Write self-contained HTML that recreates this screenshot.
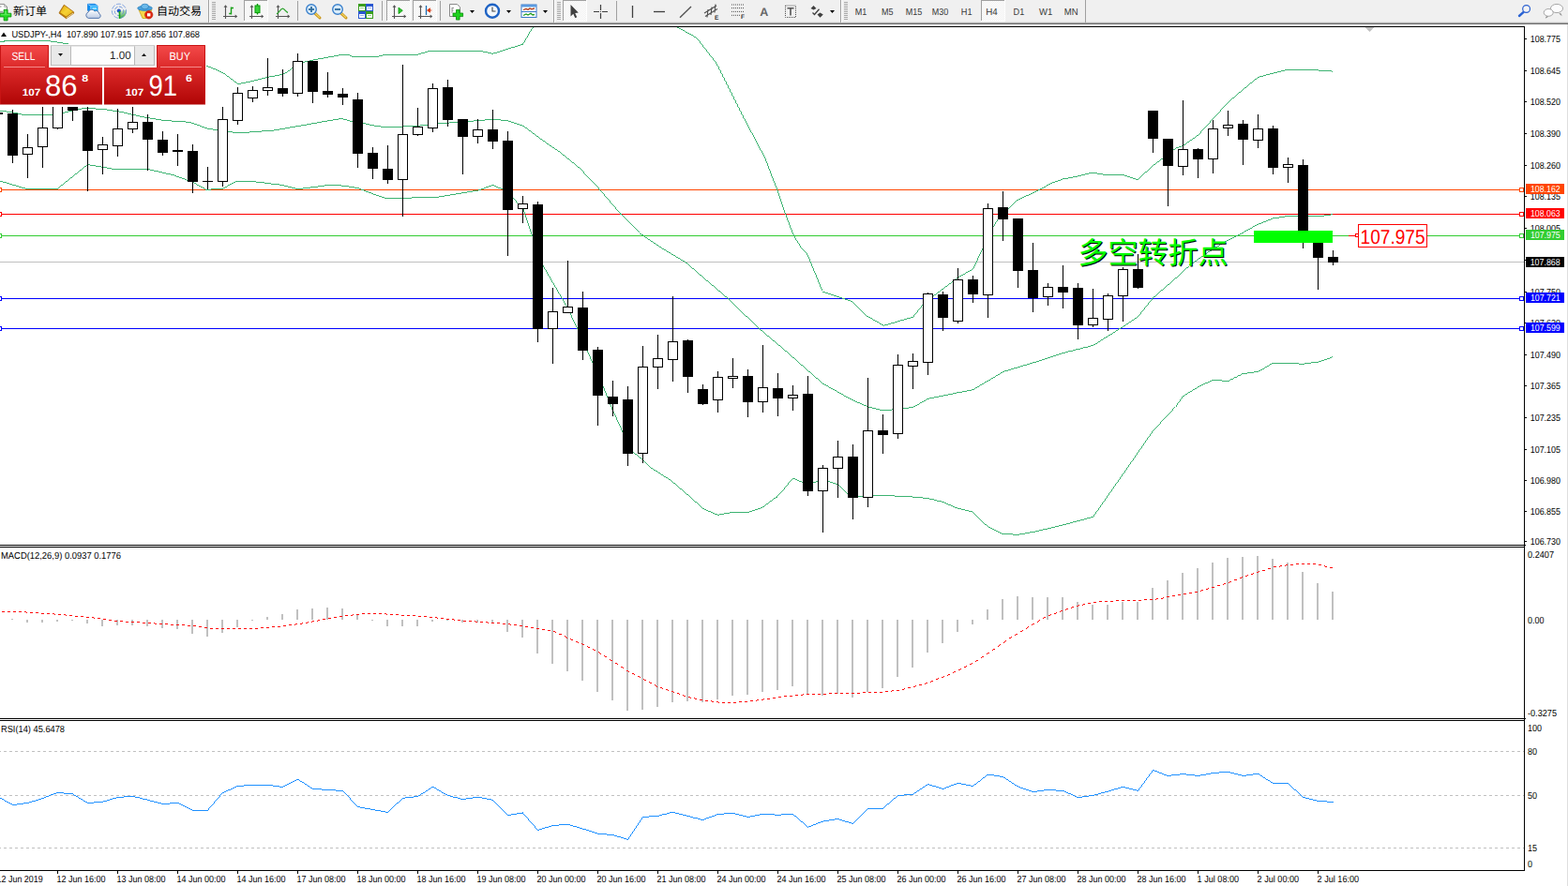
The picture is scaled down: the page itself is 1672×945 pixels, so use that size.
<!DOCTYPE html>
<html><head><meta charset="utf-8"><title>USDJPY H4</title>
<style>
html,body{margin:0;padding:0;background:#fff;width:1672px;height:945px;overflow:hidden}
svg{display:block;font-family:"Liberation Sans",sans-serif}
</style></head><body>
<svg width="1672" height="945" viewBox="0 0 1672 945" text-rendering="geometricPrecision">
<rect x="0" y="0" width="1672" height="945" fill="#fff" />
<rect x="0" y="279" width="1625" height="1" fill="#c0c0c0" />
<rect x="0" y="202" width="1625" height="1" fill="#ff4500" />
<rect x="0" y="228" width="1625" height="1" fill="#ff0000" />
<rect x="0" y="251" width="1625" height="1" fill="#32cd32" />
<rect x="0" y="318" width="1625" height="1" fill="#0000ff" />
<rect x="0" y="350" width="1625" height="1" fill="#0000ff" />
<path d="M568,29.5h1M567,30.5h1M566.5,31v2M565,33.5h1M564.5,34v2M563.5,36v2M562.5,38v2M561,40.5h1M560.5,41v2M4,43.5h50M559.5,43v2M0,44.5h5M54,44.5h7M61,45.5h6M558,45.5h1M67,46.5h6M557.5,46v2M73,47.5h6M555,47.5h2M79,48.5h7M552,48.5h3M86,49.5h6M549,49.5h3M92,50.5h6M545,50.5h4M98,51.5h6M542,51.5h3M104,52.5h7M539,52.5h3M111,53.5h6M536,53.5h3M117,54.5h6M456,54.5h59M533,54.5h3M123,55.5h6M453,55.5h3M515,55.5h5M530,55.5h3M129,56.5h6M449,56.5h4M520,56.5h4M526,56.5h4M135,57.5h7M446,57.5h3M524,57.5h2M142,58.5h6M361,58.5h12M408,58.5h38M148,59.5h6M356,59.5h5M373,59.5h2M404,59.5h4M154,60.5h6M350,60.5h6M375,60.5h29M160,61.5h7M345,61.5h5M167,62.5h6M339,62.5h6M173,63.5h6M334,63.5h5M179,64.5h6M330,64.5h4M185,65.5h7M325,65.5h5M192,66.5h6M322,66.5h3M198,67.5h6M320,67.5h2M204,68.5h6M318,68.5h2M210,69.5h6M317,69.5h1M216,70.5h6M315,70.5h2M222,71.5h3M313,71.5h2M225,72.5h2M311,72.5h2M227,73.5h3M310,73.5h1M230,74.5h2M309,74.5h1M232,75.5h2M307,75.5h2M234,76.5h2M306,76.5h1M236,77.5h2M304,77.5h2M238,78.5h2M302,78.5h2M240,79.5h1M298,79.5h4M241,80.5h1M293,80.5h5M242,81.5h2M287,81.5h6M244,82.5h1M283,82.5h4M245,83.5h1M279,83.5h4M246,84.5h2M275,84.5h4M248,85.5h1M271,85.5h4M249,86.5h1M267,86.5h4M250,87.5h2M262,87.5h5M252,88.5h1M257,88.5h5M253,89.5h4" stroke="#3cb371" stroke-width="1" fill="none" shape-rendering="crispEdges"/>
<path d="M722,29.5h2M724,30.5h2M726,31.5h2M728,32.5h2M730,33.5h1M731,34.5h2M733,35.5h2M735,36.5h2M737,37.5h2M739,38.5h1M740,39.5h2M742,40.5h1M743,41.5h1M744,42.5h1M745,43.5h1M746.5,44v2M747,46.5h1M748,47.5h1M749.5,48v2M750,50.5h1M751,51.5h1M752,52.5h1M753.5,53v2M754,55.5h1M755,56.5h1M756.5,57v2M757,59.5h1M758,60.5h1M759,61.5h1M760.5,62v2M761,64.5h1M762,65.5h1M763.5,66v2M764.5,68v2M765,70.5h1M766.5,71v3M767,74.5h1M1370,74.5h36M768.5,75v3M1366,75.5h4M1406,75.5h14M1362,76.5h4M1420,76.5h1M1358,77.5h4M769,78.5h1M1354,78.5h4M770.5,79v3M1350,79.5h4M1347,80.5h3M1343,81.5h4M771,82.5h1M1341,82.5h2M772.5,83v3M1340,83.5h1M1338,84.5h2M1337,85.5h1M773,86.5h1M1336,86.5h1M774.5,87v3M1335,87.5h1M1333,88.5h2M1332,89.5h1M775,90.5h1M1331,90.5h1M776.5,91v3M1330,91.5h1M1329,92.5h1M1327,93.5h2M777,94.5h1M1326,94.5h1M778.5,95v3M1325,95.5h1M1324,96.5h1M1323,97.5h1M779,98.5h1M1321,98.5h2M780.5,99v3M1320,99.5h1M1319,100.5h1M1318,101.5h1M781,102.5h1M1317,102.5h1M782.5,103v3M1316,103.5h1M1314,104.5h2M1313,105.5h1M783,106.5h1M1312,106.5h1M784.5,107v3M1311,107.5h1M1310,108.5h1M1309,109.5h1M785,110.5h1M1308,110.5h1M786.5,111v3M1307,111.5h1M1306,112.5h1M1305,113.5h1M787,114.5h1M1304,114.5h1M788.5,115v3M1303,115.5h1M1302,116.5h1M1301.5,117v2M789,118.5h1M790.5,119v3M1300,119.5h1M1299,120.5h1M1298,121.5h1M791,122.5h1M1297,122.5h1M792.5,123v3M1296,123.5h1M1295,124.5h1M1294,125.5h1M793,126.5h1M1293,126.5h1M794.5,127v2M1292,127.5h1M1291,128.5h1M795.5,129v2M1290.5,129v2M796.5,131v2M1289,131.5h1M1288,132.5h1M797.5,133v2M1287,133.5h1M1286,134.5h1M798.5,135v2M1285,135.5h1M1284,136.5h1M799.5,137v2M1283,137.5h1M1282,138.5h1M800.5,139v2M1281,139.5h1M1280.5,140v2M801,141.5h1M802.5,142v2M1279,142.5h1M1278,143.5h1M803.5,144v2M1276,144.5h2M1275,145.5h1M804.5,146v2M1274,146.5h1M1272,147.5h2M805.5,148v2M1271,148.5h1M1269,149.5h2M806.5,150v2M1268,150.5h1M1266,151.5h2M807.5,152v2M1265,152.5h1M1264,153.5h1M808.5,154v2M1262,154.5h2M1260,155.5h2M809.5,156v2M1257,156.5h3M1254,157.5h3M810.5,158v2M1253,158.5h1M1251,159.5h2M811,160.5h1M1250,160.5h1M812.5,161v2M1249,161.5h1M1247,162.5h2M813.5,163v2M1246,163.5h1M1245,164.5h1M814.5,165v2M1244,165.5h1M1242,166.5h2M815.5,167v2M1241,167.5h1M1240,168.5h1M816.5,169v3M1238,169.5h2M1237,170.5h1M1236,171.5h1M817.5,172v2M1234,172.5h2M1233,173.5h1M818.5,174v3M1232,174.5h1M1230,175.5h2M1229,176.5h1M819.5,177v3M1228,177.5h1M1227,178.5h1M1226,179.5h1M820.5,180v2M1225,180.5h1M1224,181.5h1M821.5,182v3M1223,182.5h1M1221,183.5h2M1161,184.5h9M1220,184.5h1M822.5,185v3M1157,185.5h4M1170,185.5h6M1219,185.5h1M1153,186.5h4M1176,186.5h23M1218,186.5h1M1149,187.5h4M1199,187.5h3M1217,187.5h1M823.5,188v2M1144,188.5h5M1202,188.5h3M1216,188.5h1M1139,189.5h5M1205,189.5h3M1215,189.5h1M824.5,190v3M1133,190.5h6M1208,190.5h3M1214,190.5h1M1131,191.5h2M1211,191.5h3M1128,192.5h3M825.5,193v2M1125,193.5h3M1122,194.5h3M826.5,195v3M1120,195.5h2M1118,196.5h2M1116,197.5h2M827.5,198v2M1115,198.5h1M1113,199.5h2M828.5,200v3M1111,200.5h2M1109,201.5h2M1107,202.5h2M829.5,203v3M1105,203.5h2M1103,204.5h2M1101,205.5h2M830.5,206v3M1099,206.5h2M1097,207.5h2M1094,208.5h3M831.5,209v3M1092,209.5h2M1090,210.5h2M1088,211.5h2M832.5,212v3M1086,212.5h2M1084,213.5h2M1083,214.5h1M833.5,215v3M1082,215.5h1M1081,216.5h1M1080,217.5h1M834.5,218v3M1079,218.5h1M1078,219.5h1M1077,220.5h1M835.5,221v3M1076,221.5h1M1075,222.5h1M1074,223.5h1M836.5,224v3M1073,224.5h1M1072,225.5h1M1071,226.5h1M837.5,227v2M1070,227.5h1M1069,228.5h1M838.5,229v3M1068,229.5h1M1067,230.5h1M1066,231.5h1M839.5,232v3M1064,232.5h2M1064,233.5h1M1063.5,234v2M840.5,235v2M1062,236.5h1M841.5,237v3M1061.5,237v2M1060.5,239v2M842.5,240v3M1059,241.5h1M1058.5,242v2M843.5,243v2M1057.5,244v2M844.5,245v3M1056.5,246v2M845.5,248v2M1055.5,248v2M846.5,250v2M1054.5,250v2M847.5,252v2M1053.5,252v3M848.5,254v2M1052.5,255v2M849,256.5h1M850.5,257v2M1051.5,257v2M851,259.5h1M1050.5,259v2M852.5,260v2M1049.5,261v2M853.5,262v2M1048.5,263v2M854,264.5h1M855,265.5h1M1047.5,265v2M856,266.5h1M857,267.5h1M1046.5,267v2M858,268.5h1M859,269.5h1M1045.5,269v2M860.5,270v2M1044.5,271v2M861.5,272v2M1043.5,273v2M862.5,274v2M1042.5,275v3M863.5,276v3M1041.5,278v2M864.5,279v2M1040.5,280v2M865.5,281v3M1039.5,282v2M866.5,284v2M1038.5,284v2M867.5,286v3M1037,286.5h1M1036,287.5h1M1034,288.5h2M868.5,289v2M1032,289.5h2M1030,290.5h2M869.5,291v2M1029,291.5h1M1027,292.5h2M870.5,293v3M1025,293.5h2M1023,294.5h2M1022,295.5h1M871.5,296v2M1020,296.5h2M1019,297.5h1M872.5,298v3M1018,298.5h1M1016,299.5h2M1015,300.5h1M873.5,301v2M1014,301.5h1M1012,302.5h2M874.5,303v3M1011,303.5h1M1010,304.5h1M1008,305.5h2M875.5,306v2M1007,306.5h1M1006,307.5h1M876.5,308v2M1004,308.5h2M1003,309.5h1M1002,310.5h1M877,311.5h3M1000,311.5h2M880,312.5h3M999,312.5h1M883,313.5h3M998,313.5h1M886,314.5h3M996,314.5h2M889,315.5h3M995,315.5h1M892,316.5h3M994,316.5h1M895,317.5h3M992,317.5h2M898,318.5h3M991,318.5h1M901,319.5h3M990,319.5h1M904,320.5h3M988,320.5h2M907,321.5h2M987,321.5h1M909,322.5h1M986,322.5h1M910,323.5h1M985,323.5h1M911,324.5h1M984,324.5h1M912,325.5h1M983,325.5h1M913,326.5h1M982.5,326v2M914,327.5h1M915,328.5h1M981,328.5h1M916,329.5h1M980,329.5h1M917,330.5h1M979,330.5h1M918,331.5h1M978.5,331v2M919,332.5h1M920,333.5h1M977,333.5h1M921,334.5h1M976,334.5h1M922,335.5h1M975,335.5h1M923,336.5h1M974.5,336v2M924,337.5h2M926,338.5h2M971,338.5h3M928,339.5h2M967,339.5h4M930,340.5h1M964,340.5h3M931,341.5h2M960,341.5h4M933,342.5h2M957,342.5h3M935,343.5h2M954,343.5h3M937,344.5h1M950,344.5h4M938,345.5h2M947,345.5h3M940,346.5h2M943,346.5h4M942,347.5h1" stroke="#3cb371" stroke-width="1" fill="none" shape-rendering="crispEdges"/>
<path d="M87,115.5h15M82,116.5h5M102,116.5h12M78,117.5h4M114,117.5h6M0,118.5h7M73,118.5h5M120,118.5h7M7,119.5h7M69,119.5h4M127,119.5h5M14,120.5h5M64,120.5h5M132,120.5h4M19,121.5h4M59,121.5h5M136,121.5h4M23,122.5h36M140,122.5h5M145,123.5h4M149,124.5h5M154,125.5h6M160,126.5h6M361,126.5h5M166,127.5h6M355,127.5h6M366,127.5h4M517,127.5h17M172,128.5h11M349,128.5h6M370,128.5h3M505,128.5h12M534,128.5h8M183,129.5h15M343,129.5h6M373,129.5h4M493,129.5h12M542,129.5h3M198,130.5h6M338,130.5h5M377,130.5h7M479,130.5h14M545,130.5h3M204,131.5h3M332,131.5h6M384,131.5h6M466,131.5h13M548,131.5h3M207,132.5h3M327,132.5h5M390,132.5h4M457,132.5h9M551,132.5h3M210,133.5h3M321,133.5h6M394,133.5h5M448,133.5h9M554,133.5h3M213,134.5h2M315,134.5h6M399,134.5h7M429,134.5h19M557,134.5h2M215,135.5h3M309,135.5h6M406,135.5h23M559,135.5h1M218,136.5h3M304,136.5h5M560,136.5h2M221,137.5h6M298,137.5h6M562,137.5h1M227,138.5h8M292,138.5h6M563,138.5h1M235,139.5h8M279,139.5h13M564,139.5h2M243,140.5h5M266,140.5h13M566,140.5h1M248,141.5h18M567,141.5h1M568,142.5h2M570,143.5h1M571,144.5h1M572,145.5h2M574,146.5h1M575,147.5h1M576,148.5h2M578,149.5h1M579,150.5h2M581,151.5h1M582,152.5h1M583,153.5h2M585,154.5h1M586,155.5h2M588,156.5h1M589,157.5h2M591,158.5h1M592,159.5h2M594,160.5h1M595,161.5h2M597,162.5h1M598,163.5h1M599,164.5h1M600,165.5h2M602,166.5h1M603,167.5h1M604,168.5h1M605,169.5h2M607,170.5h1M608,171.5h1M609,172.5h1M610,173.5h2M612,174.5h1M613,175.5h1M614,176.5h1M615,177.5h1M616,178.5h2M618,179.5h1M619,180.5h1M620,181.5h1M621,182.5h1M622.5,183v2M623,185.5h1M624,186.5h1M625,187.5h1M626,188.5h1M627,189.5h1M628,190.5h1M629,191.5h1M630,192.5h1M631,193.5h1M632,194.5h1M633,195.5h1M634,196.5h1M635,197.5h1M636,198.5h1M637,199.5h1M638.5,200v2M639,202.5h1M640,203.5h1M641,204.5h1M642,205.5h1M643,206.5h1M644.5,207v2M645,209.5h1M646,210.5h1M647,211.5h1M648,212.5h1M649,213.5h1M650.5,214v2M651,216.5h1M652,217.5h1M653,218.5h1M654,219.5h1M655,220.5h1M656.5,221v2M657,223.5h1M658,224.5h1M659,225.5h1M660,226.5h1M661.5,227v2M662,228.5h1M1419,228.5h2M663,229.5h1M1412,229.5h7M664,230.5h1M1370,230.5h42M665,231.5h1M1364,231.5h6M666,232.5h1M1357,232.5h7M667,233.5h1M1355,233.5h2M668,234.5h1M1352,234.5h3M669,235.5h1M1350,235.5h2M670,236.5h1M1347,236.5h3M671,237.5h1M1345,237.5h2M672,238.5h1M1342,238.5h3M673,239.5h1M1340,239.5h2M674,240.5h1M1338,240.5h2M675,241.5h1M1336,241.5h2M676,242.5h1M1335,242.5h1M677,243.5h1M1333,243.5h2M678,244.5h1M1331,244.5h2M679,245.5h1M1329,245.5h2M680,246.5h1M1327,246.5h2M681,247.5h1M1326,247.5h1M1324,248.5h2M682,249.5h2M1322,249.5h2M684,250.5h2M1320,250.5h2M686,251.5h1M1318,251.5h2M687,252.5h1M1316,252.5h2M688,253.5h2M1314,253.5h2M690,254.5h1M1312,254.5h2M691,255.5h2M1310,255.5h2M693,256.5h1M1308,256.5h2M694,257.5h2M1306,257.5h2M696,258.5h1M1304,258.5h2M697,259.5h2M1303,259.5h1M699,260.5h1M1301,260.5h2M700,261.5h2M1300,261.5h1M702,262.5h1M1298,262.5h2M703,263.5h2M1296,263.5h2M705,264.5h1M1295,264.5h1M706,265.5h2M1293,265.5h2M708,266.5h2M1292,266.5h1M710,267.5h1M1290,267.5h2M711,268.5h2M1288,268.5h2M713,269.5h2M1287,269.5h1M715,270.5h1M1285,270.5h2M716,271.5h2M1284,271.5h1M718,272.5h2M1283,272.5h1M720,273.5h1M1281,273.5h2M721,274.5h2M1280,274.5h1M723,275.5h2M1278,275.5h2M725,276.5h1M1277,276.5h1M726,277.5h2M1276,277.5h1M728,278.5h2M1274,278.5h2M730,279.5h1M1273,279.5h1M731,280.5h2M1271,280.5h2M733,281.5h1M1270,281.5h1M734,282.5h1M1268,282.5h2M735,283.5h1M736,284.5h1M1267,284.5h1M737,285.5h1M1265,285.5h2M738,286.5h2M1264,286.5h1M740,287.5h1M1263,287.5h1M741,288.5h1M1262,288.5h1M742,289.5h1M1261,289.5h1M743,290.5h1M1260,290.5h1M744,291.5h1M1259,291.5h1M745,292.5h1M1258,292.5h1M746,293.5h2M1257,293.5h1M748,294.5h1M1256,294.5h1M749,295.5h1M1255,295.5h1M750,296.5h1M1253,296.5h2M751,297.5h1M1252,297.5h1M752,298.5h1M1251,298.5h1M753,299.5h2M1250,299.5h1M755,300.5h1M1249,300.5h1M756,301.5h1M1248,301.5h1M757,302.5h1M1247,302.5h1M758,303.5h1M1245,303.5h2M759,304.5h2M1244,304.5h1M761,305.5h1M1243,305.5h1M762,306.5h1M1242,306.5h1M763,307.5h1M1241,307.5h1M764,308.5h1M1240,308.5h1M765,309.5h1M1238,309.5h2M766,310.5h2M1237,310.5h1M768,311.5h1M1236,311.5h1M769,312.5h1M1235,312.5h1M770,313.5h1M1234,313.5h1M771,314.5h1M1233,314.5h1M772,315.5h1M1232,315.5h1M773,316.5h2M1230,316.5h2M775,317.5h1M1229,317.5h1M776,318.5h1M1228.5,318v2M777,319.5h1M778,320.5h1M1227,320.5h1M779,321.5h1M1226,321.5h1M780,322.5h1M1225,322.5h1M781,323.5h1M1224.5,323v2M782,324.5h1M783,325.5h1M1223,325.5h1M784,326.5h1M1222,326.5h1M785,327.5h1M1221,327.5h1M786,328.5h1M1220.5,328v2M787,329.5h1M788,330.5h1M1219,330.5h1M789,331.5h1M1218,331.5h1M790,332.5h1M1217,332.5h1M791,333.5h1M1216.5,333v2M792,334.5h1M793,335.5h1M1215,335.5h1M794,336.5h1M1214,336.5h1M795,337.5h2M1213,337.5h1M797,338.5h1M1212,338.5h1M798,339.5h1M1210,339.5h2M799,340.5h1M1209,340.5h1M800,341.5h1M1207,341.5h2M801,342.5h1M1206,342.5h1M802,343.5h1M1204,343.5h2M803,344.5h1M1203,344.5h1M804,345.5h1M1201,345.5h2M805,346.5h1M1200,346.5h1M806,347.5h1M1198,347.5h2M807,348.5h1M1197,348.5h1M808,349.5h1M1195,349.5h2M809,350.5h1M1193,350.5h2M810,351.5h1M1192,351.5h1M811,352.5h2M1190,352.5h2M813,353.5h1M1189,353.5h1M814,354.5h1M1187,354.5h2M815,355.5h1M1186,355.5h1M816,356.5h1M1184,356.5h2M817,357.5h1M1182,357.5h2M818,358.5h2M1181,358.5h1M820,359.5h1M1179,359.5h2M821,360.5h1M1177,360.5h2M822,361.5h1M1176,361.5h1M823,362.5h1M1174,362.5h2M824,363.5h2M1173,363.5h1M826,364.5h1M1171,364.5h2M827,365.5h1M1170,365.5h1M828,366.5h1M1168,366.5h2M829,367.5h1M1166,367.5h2M830,368.5h2M1163,368.5h3M832,369.5h1M1160,369.5h3M833,370.5h1M1155,370.5h5M834,371.5h1M1152,371.5h3M835,372.5h1M1147,372.5h5M836,373.5h1M1144,373.5h3M837,374.5h2M1139,374.5h5M839,375.5h1M1136,375.5h3M840,376.5h1M1132,376.5h4M841,377.5h1M1129,377.5h3M842,378.5h1M1126,378.5h3M843,379.5h1M1123,379.5h3M844,380.5h1M1120,380.5h3M845,381.5h2M1117,381.5h3M847,382.5h1M1114,382.5h3M848,383.5h1M1111,383.5h3M849,384.5h1M1108,384.5h3M850,385.5h1M1105,385.5h3M851,386.5h1M1101,386.5h4M852,387.5h1M1098,387.5h3M853,388.5h1M1095,388.5h3M854,389.5h2M1091,389.5h4M856,390.5h1M1088,390.5h3M857,391.5h1M1085,391.5h3M858,392.5h1M1081,392.5h4M859,393.5h1M1078,393.5h3M860,394.5h1M1075,394.5h3M861,395.5h1M1071,395.5h4M862,396.5h2M1069,396.5h2M864,397.5h1M1067,397.5h2M865,398.5h1M1066,398.5h1M866,399.5h1M1064,399.5h2M867,400.5h1M1062,400.5h2M868,401.5h1M1061,401.5h1M869,402.5h1M1059,402.5h2M870,403.5h2M1057,403.5h2M872,404.5h1M1056,404.5h1M873,405.5h1M1054,405.5h2M874,406.5h1M1052,406.5h2M875,407.5h1M1050,407.5h2M876,408.5h1M1049,408.5h1M877,409.5h2M1047,409.5h2M879,410.5h2M1045,410.5h2M881,411.5h2M1044,411.5h1M883,412.5h1M1042,412.5h2M884,413.5h2M1040,413.5h2M886,414.5h2M1039,414.5h1M888,415.5h2M1036,415.5h3M890,416.5h2M1031,416.5h5M892,417.5h1M1026,417.5h5M893,418.5h2M1020,418.5h6M895,419.5h2M1016,419.5h4M897,420.5h2M1011,420.5h5M899,421.5h1M1006,421.5h5M900,422.5h2M1001,422.5h5M902,423.5h2M996,423.5h5M904,424.5h2M991,424.5h5M906,425.5h2M988,425.5h3M908,426.5h2M987,426.5h1M910,427.5h2M985,427.5h2M912,428.5h2M983,428.5h2M914,429.5h3M981,429.5h2M917,430.5h2M980,430.5h1M919,431.5h2M978,431.5h2M921,432.5h3M976,432.5h2M924,433.5h2M974,433.5h2M926,434.5h4M969,434.5h5M930,435.5h4M960,435.5h9M934,436.5h4M951,436.5h9M938,437.5h13" stroke="#3cb371" stroke-width="1" fill="none" shape-rendering="crispEdges"/>
<path d="M93,175.5h3M92,176.5h1M96,176.5h6M90,177.5h2M102,177.5h6M89,178.5h1M108,178.5h6M88,179.5h1M114,179.5h5M87,180.5h1M119,180.5h41M85,181.5h2M160,181.5h4M84,182.5h1M164,182.5h5M83,183.5h1M169,183.5h4M82,184.5h1M173,184.5h4M80,185.5h2M177,185.5h5M79,186.5h1M182,186.5h4M78,187.5h1M186,187.5h2M77,188.5h1M188,188.5h3M75,189.5h2M191,189.5h3M74,190.5h1M194,190.5h3M73,191.5h1M197,191.5h2M72,192.5h1M199,192.5h3M0,193.5h3M70,193.5h2M202,193.5h3M251,193.5h22M3,194.5h4M69,194.5h1M205,194.5h2M249,194.5h2M273,194.5h9M7,195.5h3M68,195.5h1M207,195.5h2M247,195.5h2M282,195.5h7M10,196.5h3M67,196.5h1M209,196.5h1M245,196.5h2M289,196.5h9M13,197.5h4M65,197.5h2M210,197.5h2M243,197.5h2M298,197.5h5M346,197.5h18M524,197.5h3M17,198.5h3M64,198.5h1M212,198.5h2M242,198.5h1M303,198.5h4M339,198.5h7M364,198.5h8M521,198.5h3M527,198.5h2M20,199.5h3M63,199.5h1M214,199.5h2M240,199.5h2M307,199.5h4M331,199.5h8M372,199.5h6M518,199.5h3M529,199.5h2M23,200.5h4M62,200.5h1M216,200.5h2M238,200.5h2M311,200.5h4M323,200.5h8M378,200.5h5M516,200.5h2M531,200.5h3M27,201.5h35M218,201.5h1M225,201.5h13M315,201.5h8M383,201.5h2M513,201.5h3M534,201.5h2M219,202.5h6M385,202.5h3M510,202.5h3M536,202.5h2M388,203.5h2M504,203.5h6M538,203.5h2M390,204.5h3M498,204.5h6M540,204.5h1M393,205.5h3M492,205.5h6M541,205.5h1M396,206.5h2M486,206.5h6M542,206.5h1M398,207.5h3M480,207.5h6M543,207.5h1M401,208.5h3M474,208.5h6M544,208.5h1M404,209.5h3M468,209.5h6M545,209.5h1M407,210.5h3M439,210.5h29M546,210.5h1M410,211.5h29M547,211.5h1M548,212.5h1M549,213.5h1M550.5,214v2M551,216.5h1M552,217.5h1M553,218.5h1M554,219.5h1M555,220.5h1M556,221.5h1M558.5,222v4M559.5,226v3M560.5,229v3M561.5,232v3M562.5,235v3M563.5,238v3M564.5,241v3M565.5,244v3M566.5,247v3M567.5,250v2M568.5,252v4M569.5,256v3M570.5,259v3M571.5,262v2M572.5,264v3M573.5,267v3M574.5,270v3M575.5,273v3M576.5,276v3M577.5,279v2M578.5,281v2M579.5,283v2M580.5,285v2M581,287.5h1M582.5,288v2M583.5,290v2M584.5,292v2M585,294.5h1M586.5,295v2M587.5,297v2M588.5,299v2M589,301.5h1M590.5,302v2M591.5,304v2M592,306.5h1M593.5,307v2M594.5,309v2M595.5,311v2M596,313.5h1M597.5,314v2M598.5,316v2M599,318.5h1M600.5,319v2M601.5,321v2M602.5,323v2M603,325.5h1M604.5,326v2M605.5,328v2M606.5,330v2M607.5,332v2M608.5,334v2M609.5,336v3M610.5,339v2M611.5,341v2M612.5,343v2M613.5,345v2M614.5,347v2M615.5,349v2M616.5,351v3M617.5,354v2M618.5,356v2M619.5,358v2M620.5,360v3M621.5,363v2M622.5,365v2M623.5,367v2M624.5,369v2M625.5,371v3M626.5,374v2M627.5,376v2M628.5,378v2M629.5,380v3M1420,380.5h1M1418,381.5h2M1415,382.5h3M630.5,383v2M1412,383.5h3M1409,384.5h3M631.5,385v2M1406,385.5h3M1398,386.5h8M632.5,387v2M1356,387.5h29M1391,387.5h7M1354,388.5h2M1385,388.5h6M633.5,389v2M1353,389.5h1M1351,390.5h2M634.5,391v3M1349,391.5h2M1348,392.5h1M1346,393.5h2M635.5,394v2M1344,394.5h2M1342,395.5h2M636.5,396v2M1337,396.5h5M1330,397.5h7M637.5,398v2M1324,398.5h6M1323,399.5h1M638.5,400v3M1320,400.5h3M1319,401.5h1M1316,402.5h3M639.5,403v2M1315,403.5h1M1312,404.5h3M640.5,405v2M1292,405.5h11M1311,405.5h1M1290,406.5h2M1303,406.5h8M641.5,407v2M1288,407.5h2M1285,408.5h3M642.5,409v3M1283,409.5h2M1281,410.5h2M1279,411.5h2M643.5,412v2M1277,412.5h2M1276,413.5h1M644.5,414v3M1274,414.5h2M1272,415.5h2M1271,416.5h1M645.5,417v2M1269,417.5h2M1267,418.5h2M646.5,419v3M1266,419.5h1M1264,420.5h2M1263,421.5h1M647.5,422v2M1261,422.5h2M1260.5,423v2M648.5,424v3M1259,425.5h1M1258.5,426v2M649.5,427v2M1257,428.5h1M650.5,429v3M1256,429.5h1M1255.5,430v2M651.5,432v2M1254.5,432v2M652.5,434v3M1252,434.5h1M1251,435.5h1M1250.5,436v2M653.5,437v2M1249,438.5h1M654.5,439v2M1248,439.5h1M1247,440.5h1M655.5,441v2M1246,441.5h1M1245,442.5h1M656.5,443v2M1244,443.5h1M1243,444.5h1M657.5,445v3M1242,445.5h1M1241,446.5h1M1240,447.5h1M658.5,448v2M1239,448.5h1M1238,449.5h1M659.5,450v2M1237.5,450v2M660.5,452v2M1236,452.5h1M1235,453.5h1M661.5,454v2M1234,454.5h1M1233,455.5h1M662.5,456v3M1232,456.5h1M1231,457.5h1M1230,458.5h1M663.5,459v2M1229,459.5h1M1228.5,460v2M664.5,461v2M1227,462.5h1M665.5,463v2M1226.5,463v2M666.5,465v2M1225,465.5h1M1224,466.5h1M667.5,467v2M1223.5,467v2M668,469.5h1M1222,469.5h1M669.5,470v2M1221.5,470v2M670.5,472v2M1220,472.5h1M1219.5,473v2M671.5,474v2M1218,475.5h1M672.5,476v2M1217.5,476v2M673.5,478v2M1216,478.5h1M1215,479.5h1M674.5,480v2M1214.5,480v2M675,482.5h1M1213,482.5h1M676,483.5h1M1212.5,483v2M677,484.5h2M679,485.5h1M1211,485.5h1M680,486.5h1M1210.5,486v2M681,487.5h1M682,488.5h2M1209,488.5h1M684,489.5h1M1208.5,489v2M685,490.5h1M686,491.5h1M1207,491.5h1M687,492.5h1M1206,492.5h1M688,493.5h1M1205.5,493v2M689,494.5h1M690,495.5h1M1204,495.5h1M691,496.5h1M1203.5,496v2M692,497.5h1M693,498.5h1M1202,498.5h1M694,499.5h2M1201.5,499v2M696,500.5h1M697,501.5h2M1200,501.5h1M699,502.5h2M1199.5,502v2M701,503.5h1M702,504.5h2M1198,504.5h1M704,505.5h1M1197,505.5h1M705,506.5h2M1196.5,506v2M707,507.5h1M708,508.5h2M1195,508.5h1M710,509.5h2M1194.5,509v2M712,510.5h1M845,510.5h3M877,510.5h1M713,511.5h2M844,511.5h1M848,511.5h2M875,511.5h2M878,511.5h2M1193,511.5h1M715,512.5h1M843,512.5h1M850,512.5h2M872,512.5h3M880,512.5h3M1192.5,512v2M716,513.5h1M842,513.5h1M852,513.5h3M870,513.5h2M883,513.5h2M717,514.5h1M841,514.5h1M855,514.5h2M867,514.5h3M885,514.5h3M1191,514.5h1M718,515.5h2M840.5,515v2M857,515.5h2M864,515.5h3M888,515.5h3M1190,515.5h1M720,516.5h1M859,516.5h5M891,516.5h3M1189.5,516v2M721,517.5h1M839,517.5h1M894,517.5h1M722,518.5h1M838,518.5h1M895,518.5h1M1188,518.5h1M723,519.5h1M837,519.5h1M896,519.5h1M1187.5,519v2M724,520.5h1M836.5,520v2M897,520.5h1M725,521.5h2M898,521.5h1M1186,521.5h1M727,522.5h1M835,522.5h1M899,522.5h1M1185.5,522v2M728,523.5h1M834,523.5h1M900,523.5h1M729,524.5h1M833,524.5h1M901,524.5h1M1184,524.5h1M730,525.5h1M832,525.5h1M902,525.5h1M1183,525.5h1M731,526.5h1M831,526.5h1M903,526.5h2M1182.5,526v2M732,527.5h2M830,527.5h1M905,527.5h2M734,528.5h1M829,528.5h1M907,528.5h3M921,528.5h33M1181,528.5h1M735,529.5h1M828.5,529v2M910,529.5h11M954,529.5h19M1180.5,529v2M736,530.5h1M827,530.5h1M973,530.5h11M737,531.5h1M825,531.5h2M984,531.5h7M1179,531.5h1M738,532.5h1M824,532.5h1M991,532.5h5M1178.5,532v2M739,533.5h1M823,533.5h1M996,533.5h3M740,534.5h1M821,534.5h2M999,534.5h5M1177,534.5h1M741,535.5h2M820,535.5h1M1004,535.5h3M1176,535.5h1M743,536.5h1M819,536.5h1M1007,536.5h2M1175.5,536v2M744,537.5h1M817,537.5h2M1009,537.5h2M745,538.5h1M816,538.5h1M1011,538.5h3M1174,538.5h1M746,539.5h1M815,539.5h1M1014,539.5h2M1173.5,539v2M747,540.5h1M813,540.5h2M1016,540.5h2M748,541.5h1M811,541.5h2M1018,541.5h3M1172,541.5h1M749,542.5h2M808,542.5h3M1021,542.5h4M1171.5,542v2M751,543.5h2M805,543.5h3M1025,543.5h4M753,544.5h2M802,544.5h3M1029,544.5h4M1170,544.5h1M755,545.5h3M799,545.5h3M1033,545.5h4M1169,545.5h1M758,546.5h2M778,546.5h21M1037,546.5h1M1168.5,546v2M760,547.5h2M772,547.5h6M1038,547.5h1M762,548.5h3M767,548.5h5M1039,548.5h1M1167,548.5h1M765,549.5h2M1040,549.5h1M1166.5,549v2M1041,550.5h1M1042,551.5h1M1163,551.5h3M1043,552.5h1M1159,552.5h4M1044,553.5h1M1156,553.5h3M1045,554.5h1M1152,554.5h4M1046,555.5h1M1148,555.5h4M1047,556.5h1M1144,556.5h4M1048,557.5h1M1141,557.5h3M1049,558.5h1M1137,558.5h4M1050,559.5h2M1133,559.5h4M1052,560.5h1M1129,560.5h4M1053,561.5h1M1125,561.5h4M1054,562.5h2M1121,562.5h4M1056,563.5h2M1117,563.5h4M1058,564.5h2M1112,564.5h5M1060,565.5h2M1108,565.5h4M1062,566.5h2M1104,566.5h4M1064,567.5h2M1098,567.5h6M1066,568.5h2M1093,568.5h5M1068,569.5h12M1087,569.5h6M1080,570.5h7" stroke="#3cb371" stroke-width="1" fill="none" shape-rendering="crispEdges"/>
<rect x="-2.5" y="200.5" width="4" height="4" fill="#fff" stroke="#ff4500" stroke-width="1" shape-rendering="crispEdges"/>
<rect x="1620.5" y="200.5" width="4" height="4" fill="#fff" stroke="#ff4500" stroke-width="1" shape-rendering="crispEdges"/>
<rect x="-2.5" y="226.5" width="4" height="4" fill="#fff" stroke="#ff0000" stroke-width="1" shape-rendering="crispEdges"/>
<rect x="1620.5" y="226.5" width="4" height="4" fill="#fff" stroke="#ff0000" stroke-width="1" shape-rendering="crispEdges"/>
<rect x="-2.5" y="249.5" width="4" height="4" fill="#fff" stroke="#32cd32" stroke-width="1" shape-rendering="crispEdges"/>
<rect x="1620.5" y="249.5" width="4" height="4" fill="#fff" stroke="#32cd32" stroke-width="1" shape-rendering="crispEdges"/>
<rect x="-2.5" y="316.5" width="4" height="4" fill="#fff" stroke="#0000ff" stroke-width="1" shape-rendering="crispEdges"/>
<rect x="1620.5" y="316.5" width="4" height="4" fill="#fff" stroke="#0000ff" stroke-width="1" shape-rendering="crispEdges"/>
<rect x="-2.5" y="348.5" width="4" height="4" fill="#fff" stroke="#0000ff" stroke-width="1" shape-rendering="crispEdges"/>
<rect x="1620.5" y="348.5" width="4" height="4" fill="#fff" stroke="#0000ff" stroke-width="1" shape-rendering="crispEdges"/>
<g shape-rendering="crispEdges">
<rect x="13" y="117" width="1" height="57" fill="#000" />
<rect x="8" y="121" width="11" height="45" fill="#000" />
<rect x="29" y="143" width="1" height="47" fill="#000" />
<rect x="24" y="157" width="11" height="8" fill="#000" />
<rect x="25" y="158" width="9" height="6" fill="#fff" />
<rect x="45" y="100" width="1" height="79" fill="#000" />
<rect x="40" y="136" width="11" height="21" fill="#000" />
<rect x="41" y="137" width="9" height="19" fill="#fff" />
<rect x="61" y="100" width="1" height="38" fill="#000" />
<rect x="56" y="100" width="11" height="37" fill="#000" />
<rect x="57" y="101" width="9" height="35" fill="#fff" />
<rect x="77" y="105" width="1" height="24" fill="#000" />
<rect x="72" y="105" width="11" height="13" fill="#000" />
<rect x="93" y="105" width="1" height="99" fill="#000" />
<rect x="88" y="118" width="11" height="43" fill="#000" />
<rect x="109" y="146" width="1" height="40" fill="#000" />
<rect x="104" y="154" width="11" height="6" fill="#000" />
<rect x="105" y="155" width="9" height="4" fill="#fff" />
<rect x="125" y="116" width="1" height="51" fill="#000" />
<rect x="120" y="137" width="11" height="19" fill="#000" />
<rect x="121" y="138" width="9" height="17" fill="#fff" />
<rect x="141" y="113" width="1" height="29" fill="#000" />
<rect x="136" y="130" width="11" height="8" fill="#000" />
<rect x="137" y="131" width="9" height="6" fill="#fff" />
<rect x="157" y="122" width="1" height="60" fill="#000" />
<rect x="152" y="130" width="11" height="19" fill="#000" />
<rect x="173" y="140" width="1" height="26" fill="#000" />
<rect x="168" y="149" width="11" height="14" fill="#000" />
<rect x="189" y="143" width="1" height="34" fill="#000" />
<rect x="184" y="160" width="11" height="2" fill="#000" />
<rect x="205" y="154" width="1" height="52" fill="#000" />
<rect x="200" y="161" width="11" height="33" fill="#000" />
<rect x="221" y="178" width="1" height="24" fill="#000" />
<rect x="216" y="193" width="11" height="1" fill="#000" />
<rect x="237" y="114" width="1" height="85" fill="#000" />
<rect x="232" y="127" width="11" height="67" fill="#000" />
<rect x="233" y="128" width="9" height="65" fill="#fff" />
<rect x="253" y="93" width="1" height="40" fill="#000" />
<rect x="248" y="99" width="11" height="30" fill="#000" />
<rect x="249" y="100" width="9" height="28" fill="#fff" />
<rect x="269" y="92" width="1" height="17" fill="#000" />
<rect x="264" y="96" width="11" height="9" fill="#000" />
<rect x="265" y="97" width="9" height="7" fill="#fff" />
<rect x="285" y="62" width="1" height="40" fill="#000" />
<rect x="280" y="93" width="11" height="4" fill="#000" />
<rect x="281" y="94" width="9" height="2" fill="#fff" />
<rect x="301" y="74" width="1" height="29" fill="#000" />
<rect x="296" y="94" width="11" height="6" fill="#000" />
<rect x="317" y="57" width="1" height="46" fill="#000" />
<rect x="312" y="65" width="11" height="35" fill="#000" />
<rect x="313" y="66" width="9" height="33" fill="#fff" />
<rect x="333" y="65" width="1" height="45" fill="#000" />
<rect x="328" y="65" width="11" height="33" fill="#000" />
<rect x="349" y="77" width="1" height="27" fill="#000" />
<rect x="344" y="97" width="11" height="4" fill="#000" />
<rect x="365" y="94" width="1" height="18" fill="#000" />
<rect x="360" y="100" width="11" height="4" fill="#000" />
<rect x="381" y="99" width="1" height="80" fill="#000" />
<rect x="376" y="106" width="11" height="58" fill="#000" />
<rect x="397" y="157" width="1" height="34" fill="#000" />
<rect x="392" y="163" width="11" height="17" fill="#000" />
<rect x="413" y="155" width="1" height="41" fill="#000" />
<rect x="408" y="180" width="11" height="12" fill="#000" />
<rect x="429" y="69" width="1" height="162" fill="#000" />
<rect x="424" y="143" width="11" height="49" fill="#000" />
<rect x="425" y="144" width="9" height="47" fill="#fff" />
<rect x="445" y="115" width="1" height="30" fill="#000" />
<rect x="440" y="135" width="11" height="9" fill="#000" />
<rect x="441" y="136" width="9" height="7" fill="#fff" />
<rect x="461" y="89" width="1" height="52" fill="#000" />
<rect x="456" y="94" width="11" height="43" fill="#000" />
<rect x="457" y="95" width="9" height="41" fill="#fff" />
<rect x="477" y="85" width="1" height="50" fill="#000" />
<rect x="472" y="93" width="11" height="35" fill="#000" />
<rect x="493" y="127" width="1" height="59" fill="#000" />
<rect x="488" y="127" width="11" height="19" fill="#000" />
<rect x="509" y="127" width="1" height="26" fill="#000" />
<rect x="504" y="138" width="11" height="8" fill="#000" />
<rect x="505" y="139" width="9" height="6" fill="#fff" />
<rect x="525" y="117" width="1" height="42" fill="#000" />
<rect x="520" y="138" width="11" height="13" fill="#000" />
<rect x="541" y="140" width="1" height="133" fill="#000" />
<rect x="536" y="150" width="11" height="74" fill="#000" />
<rect x="557" y="209" width="1" height="29" fill="#000" />
<rect x="552" y="217" width="11" height="6" fill="#000" />
<rect x="553" y="218" width="9" height="4" fill="#fff" />
<rect x="573" y="215" width="1" height="150" fill="#000" />
<rect x="568" y="218" width="11" height="133" fill="#000" />
<rect x="589" y="307" width="1" height="81" fill="#000" />
<rect x="584" y="332" width="11" height="19" fill="#000" />
<rect x="585" y="333" width="9" height="17" fill="#fff" />
<rect x="605" y="278" width="1" height="56" fill="#000" />
<rect x="600" y="327" width="11" height="7" fill="#000" />
<rect x="601" y="328" width="9" height="5" fill="#fff" />
<rect x="621" y="311" width="1" height="73" fill="#000" />
<rect x="616" y="328" width="11" height="46" fill="#000" />
<rect x="637" y="370" width="1" height="84" fill="#000" />
<rect x="632" y="373" width="11" height="49" fill="#000" />
<rect x="653" y="406" width="1" height="38" fill="#000" />
<rect x="648" y="423" width="11" height="8" fill="#000" />
<rect x="669" y="412" width="1" height="85" fill="#000" />
<rect x="664" y="426" width="11" height="58" fill="#000" />
<rect x="685" y="369" width="1" height="125" fill="#000" />
<rect x="680" y="391" width="11" height="93" fill="#000" />
<rect x="681" y="392" width="9" height="91" fill="#fff" />
<rect x="701" y="357" width="1" height="58" fill="#000" />
<rect x="696" y="382" width="11" height="10" fill="#000" />
<rect x="697" y="383" width="9" height="8" fill="#fff" />
<rect x="717" y="316" width="1" height="91" fill="#000" />
<rect x="712" y="364" width="11" height="20" fill="#000" />
<rect x="713" y="365" width="9" height="18" fill="#fff" />
<rect x="733" y="362" width="1" height="57" fill="#000" />
<rect x="728" y="363" width="11" height="39" fill="#000" />
<rect x="749" y="410" width="1" height="22" fill="#000" />
<rect x="744" y="415" width="11" height="16" fill="#000" />
<rect x="765" y="396" width="1" height="44" fill="#000" />
<rect x="760" y="402" width="11" height="25" fill="#000" />
<rect x="761" y="403" width="9" height="23" fill="#fff" />
<rect x="781" y="382" width="1" height="32" fill="#000" />
<rect x="776" y="401" width="11" height="3" fill="#000" />
<rect x="777" y="402" width="9" height="1" fill="#fff" />
<rect x="797" y="394" width="1" height="51" fill="#000" />
<rect x="792" y="401" width="11" height="28" fill="#000" />
<rect x="813" y="368" width="1" height="72" fill="#000" />
<rect x="808" y="413" width="11" height="16" fill="#000" />
<rect x="809" y="414" width="9" height="14" fill="#fff" />
<rect x="829" y="398" width="1" height="46" fill="#000" />
<rect x="824" y="414" width="11" height="11" fill="#000" />
<rect x="845" y="411" width="1" height="27" fill="#000" />
<rect x="840" y="421" width="11" height="4" fill="#000" />
<rect x="841" y="422" width="9" height="2" fill="#fff" />
<rect x="861" y="401" width="1" height="128" fill="#000" />
<rect x="856" y="420" width="11" height="104" fill="#000" />
<rect x="877" y="496" width="1" height="72" fill="#000" />
<rect x="872" y="499" width="11" height="25" fill="#000" />
<rect x="873" y="500" width="9" height="23" fill="#fff" />
<rect x="893" y="470" width="1" height="61" fill="#000" />
<rect x="888" y="487" width="11" height="13" fill="#000" />
<rect x="889" y="488" width="9" height="11" fill="#fff" />
<rect x="909" y="474" width="1" height="80" fill="#000" />
<rect x="904" y="487" width="11" height="44" fill="#000" />
<rect x="925" y="403" width="1" height="138" fill="#000" />
<rect x="920" y="459" width="11" height="72" fill="#000" />
<rect x="921" y="460" width="9" height="70" fill="#fff" />
<rect x="941" y="442" width="1" height="42" fill="#000" />
<rect x="936" y="459" width="11" height="5" fill="#000" />
<rect x="957" y="378" width="1" height="90" fill="#000" />
<rect x="952" y="389" width="11" height="74" fill="#000" />
<rect x="953" y="390" width="9" height="72" fill="#fff" />
<rect x="973" y="377" width="1" height="38" fill="#000" />
<rect x="968" y="385" width="11" height="6" fill="#000" />
<rect x="969" y="386" width="9" height="4" fill="#fff" />
<rect x="989" y="312" width="1" height="88" fill="#000" />
<rect x="984" y="313" width="11" height="74" fill="#000" />
<rect x="985" y="314" width="9" height="72" fill="#fff" />
<rect x="1005" y="311" width="1" height="42" fill="#000" />
<rect x="1000" y="314" width="11" height="25" fill="#000" />
<rect x="1021" y="286" width="1" height="59" fill="#000" />
<rect x="1016" y="298" width="11" height="45" fill="#000" />
<rect x="1017" y="299" width="9" height="43" fill="#fff" />
<rect x="1037" y="294" width="1" height="29" fill="#000" />
<rect x="1032" y="298" width="11" height="16" fill="#000" />
<rect x="1053" y="217" width="1" height="122" fill="#000" />
<rect x="1048" y="222" width="11" height="93" fill="#000" />
<rect x="1049" y="223" width="9" height="91" fill="#fff" />
<rect x="1069" y="204" width="1" height="53" fill="#000" />
<rect x="1064" y="221" width="11" height="13" fill="#000" />
<rect x="1085" y="233" width="1" height="74" fill="#000" />
<rect x="1080" y="233" width="11" height="56" fill="#000" />
<rect x="1101" y="259" width="1" height="74" fill="#000" />
<rect x="1096" y="288" width="11" height="30" fill="#000" />
<rect x="1117" y="302" width="1" height="24" fill="#000" />
<rect x="1112" y="306" width="11" height="11" fill="#000" />
<rect x="1113" y="307" width="9" height="9" fill="#fff" />
<rect x="1133" y="283" width="1" height="46" fill="#000" />
<rect x="1128" y="306" width="11" height="6" fill="#000" />
<rect x="1149" y="302" width="1" height="60" fill="#000" />
<rect x="1144" y="307" width="11" height="40" fill="#000" />
<rect x="1165" y="308" width="1" height="41" fill="#000" />
<rect x="1160" y="339" width="11" height="8" fill="#000" />
<rect x="1161" y="340" width="9" height="6" fill="#fff" />
<rect x="1181" y="313" width="1" height="40" fill="#000" />
<rect x="1176" y="315" width="11" height="26" fill="#000" />
<rect x="1177" y="316" width="9" height="24" fill="#fff" />
<rect x="1197" y="285" width="1" height="58" fill="#000" />
<rect x="1192" y="287" width="11" height="29" fill="#000" />
<rect x="1193" y="288" width="9" height="27" fill="#fff" />
<rect x="1213" y="271" width="1" height="37" fill="#000" />
<rect x="1208" y="287" width="11" height="20" fill="#000" />
<rect x="1229" y="118" width="1" height="45" fill="#000" />
<rect x="1224" y="118" width="11" height="30" fill="#000" />
<rect x="1245" y="148" width="1" height="72" fill="#000" />
<rect x="1240" y="148" width="11" height="29" fill="#000" />
<rect x="1261" y="107" width="1" height="80" fill="#000" />
<rect x="1256" y="159" width="11" height="19" fill="#000" />
<rect x="1257" y="160" width="9" height="17" fill="#fff" />
<rect x="1277" y="158" width="1" height="32" fill="#000" />
<rect x="1272" y="159" width="11" height="11" fill="#000" />
<rect x="1293" y="128" width="1" height="57" fill="#000" />
<rect x="1288" y="137" width="11" height="33" fill="#000" />
<rect x="1289" y="138" width="9" height="31" fill="#fff" />
<rect x="1309" y="118" width="1" height="27" fill="#000" />
<rect x="1304" y="133" width="11" height="4" fill="#000" />
<rect x="1305" y="134" width="9" height="2" fill="#fff" />
<rect x="1325" y="128" width="1" height="48" fill="#000" />
<rect x="1320" y="132" width="11" height="17" fill="#000" />
<rect x="1341" y="122" width="1" height="36" fill="#000" />
<rect x="1336" y="137" width="11" height="13" fill="#000" />
<rect x="1337" y="138" width="9" height="11" fill="#fff" />
<rect x="1357" y="134" width="1" height="52" fill="#000" />
<rect x="1352" y="137" width="11" height="42" fill="#000" />
<rect x="1373" y="168" width="1" height="27" fill="#000" />
<rect x="1368" y="175" width="11" height="4" fill="#000" />
<rect x="1369" y="176" width="9" height="2" fill="#fff" />
<rect x="1389" y="170" width="1" height="95" fill="#000" />
<rect x="1384" y="176" width="11" height="74" fill="#000" />
<rect x="1405" y="250" width="1" height="59" fill="#000" />
<rect x="1400" y="250" width="11" height="25" fill="#000" />
<rect x="1421" y="267" width="1" height="16" fill="#000" />
<rect x="1416" y="274" width="11" height="6" fill="#000" />
</g>
<rect x="0" y="120" width="3" height="2" fill="#000" />
<rect x="1337" y="246" width="84" height="13" fill="#00ff00" />
<text x="1150.5" y="281.8" font-size="32" fill="#000" textLength="160" lengthAdjust="spacingAndGlyphs" style="font-family:'Liberation Sans','Noto Sans CJK SC',sans-serif">多空转折点</text>
<text x="1149.4" y="280.7" font-size="32" fill="#00ff00" textLength="160" lengthAdjust="spacingAndGlyphs" style="font-family:'Liberation Sans','Noto Sans CJK SC',sans-serif">多空转折点</text>
<rect x="1438" y="251" width="8" height="1" fill="#ff0000" />
<rect x="1445.5" y="249.5" width="3" height="3" fill="#fff" stroke="#f00" stroke-width="1" shape-rendering="crispEdges"/>
<rect x="1448.5" y="239.5" width="73" height="24" fill="#fff" stroke="#f00" stroke-width="1" shape-rendering="crispEdges"/>
<text x="1450.6" y="260" font-size="21.5" fill="#ff0000" textLength="69" lengthAdjust="spacingAndGlyphs" >107.975</text>
<rect x="0" y="28" width="1626" height="1" fill="#000" />
<rect x="1625" y="28" width="1" height="901" fill="#000" />
<rect x="0" y="928" width="1626" height="1" fill="#000" />
<rect x="0" y="581" width="1627" height="1" fill="#000" />
<rect x="0" y="766" width="1627" height="1" fill="#000" />
<rect x="0" y="583" width="1626" height="1" fill="#000" />
<rect x="0" y="768" width="1626" height="1" fill="#000" />
<path d="M1455.5,29 L1465.5,29 L1460.5,34 Z" fill="#c0c0c0"/>
<rect x="1671" y="26" width="1" height="919" fill="#dedede" />
<rect x="1626" y="41" width="2" height="1" fill="#000" />
<text x="1631.7" y="45" font-size="10.2" fill="#000" textLength="32.3" lengthAdjust="spacingAndGlyphs" >108.775</text>
<rect x="1626" y="75" width="2" height="1" fill="#000" />
<text x="1631.7" y="79" font-size="10.2" fill="#000" textLength="32.3" lengthAdjust="spacingAndGlyphs" >108.645</text>
<rect x="1626" y="108" width="2" height="1" fill="#000" />
<text x="1631.7" y="112" font-size="10.2" fill="#000" textLength="32.3" lengthAdjust="spacingAndGlyphs" >108.520</text>
<rect x="1626" y="142" width="2" height="1" fill="#000" />
<text x="1631.7" y="146" font-size="10.2" fill="#000" textLength="32.3" lengthAdjust="spacingAndGlyphs" >108.390</text>
<rect x="1626" y="176" width="2" height="1" fill="#000" />
<text x="1631.7" y="180" font-size="10.2" fill="#000" textLength="32.3" lengthAdjust="spacingAndGlyphs" >108.260</text>
<rect x="1626" y="209" width="2" height="1" fill="#000" />
<text x="1631.7" y="213" font-size="10.2" fill="#000" textLength="32.3" lengthAdjust="spacingAndGlyphs" >108.135</text>
<rect x="1626" y="243" width="2" height="1" fill="#000" />
<text x="1631.7" y="247" font-size="10.2" fill="#000" textLength="32.3" lengthAdjust="spacingAndGlyphs" >108.005</text>
<rect x="1626" y="277" width="2" height="1" fill="#000" />
<text x="1631.7" y="281" font-size="10.2" fill="#000" textLength="32.3" lengthAdjust="spacingAndGlyphs" >107.875</text>
<rect x="1626" y="311" width="2" height="1" fill="#000" />
<text x="1631.7" y="315" font-size="10.2" fill="#000" textLength="32.3" lengthAdjust="spacingAndGlyphs" >107.750</text>
<rect x="1626" y="344" width="2" height="1" fill="#000" />
<text x="1631.7" y="348" font-size="10.2" fill="#000" textLength="32.3" lengthAdjust="spacingAndGlyphs" >107.620</text>
<rect x="1626" y="378" width="2" height="1" fill="#000" />
<text x="1631.7" y="382" font-size="10.2" fill="#000" textLength="32.3" lengthAdjust="spacingAndGlyphs" >107.490</text>
<rect x="1626" y="411" width="2" height="1" fill="#000" />
<text x="1631.7" y="415" font-size="10.2" fill="#000" textLength="32.3" lengthAdjust="spacingAndGlyphs" >107.365</text>
<rect x="1626" y="445" width="2" height="1" fill="#000" />
<text x="1631.7" y="449" font-size="10.2" fill="#000" textLength="32.3" lengthAdjust="spacingAndGlyphs" >107.235</text>
<rect x="1626" y="479" width="2" height="1" fill="#000" />
<text x="1631.7" y="483" font-size="10.2" fill="#000" textLength="32.3" lengthAdjust="spacingAndGlyphs" >107.105</text>
<rect x="1626" y="512" width="2" height="1" fill="#000" />
<text x="1631.7" y="516" font-size="10.2" fill="#000" textLength="32.3" lengthAdjust="spacingAndGlyphs" >106.980</text>
<rect x="1626" y="545" width="2" height="1" fill="#000" />
<text x="1631.7" y="549" font-size="10.2" fill="#000" textLength="32.3" lengthAdjust="spacingAndGlyphs" >106.855</text>
<rect x="1626" y="577" width="2" height="1" fill="#000" />
<text x="1631.7" y="581" font-size="10.2" fill="#000" textLength="32.3" lengthAdjust="spacingAndGlyphs" >106.730</text>
<rect x="1627" y="196" width="41" height="11" fill="#ff4500" />
<text x="1631.9" y="205" font-size="10.2" fill="#fff" textLength="31.8" lengthAdjust="spacingAndGlyphs" >108.162</text>
<rect x="1627" y="222" width="41" height="11" fill="#ff0000" />
<text x="1631.9" y="231" font-size="10.2" fill="#fff" textLength="31.8" lengthAdjust="spacingAndGlyphs" >108.063</text>
<rect x="1627" y="245" width="41" height="11" fill="#32cd32" />
<text x="1631.9" y="254" font-size="10.2" fill="#fff" textLength="31.8" lengthAdjust="spacingAndGlyphs" >107.975</text>
<rect x="1627" y="312" width="41" height="11" fill="#0000ff" />
<text x="1631.9" y="321" font-size="10.2" fill="#fff" textLength="31.8" lengthAdjust="spacingAndGlyphs" >107.721</text>
<rect x="1627" y="344" width="41" height="11" fill="#0000ff" />
<text x="1631.9" y="353" font-size="10.2" fill="#fff" textLength="31.8" lengthAdjust="spacingAndGlyphs" >107.599</text>
<rect x="1627" y="274" width="41" height="11" fill="#000" />
<text x="1631.7" y="283" font-size="10.2" fill="#fff" textLength="32" lengthAdjust="spacingAndGlyphs" >107.868</text>
<path d="M1,39 L7,39 L4,34.5 Z" fill="#000"/>
<text x="12.4" y="40" font-size="10.2" fill="#000" textLength="200.6" lengthAdjust="spacingAndGlyphs" xml:space="preserve">USDJPY-,H4&#160;&#160;107.890 107.915 107.856 107.868</text>
<g shape-rendering="crispEdges">
<rect x="12" y="660" width="2" height="1" fill="#c0c0c0" />
<rect x="28" y="661" width="2" height="3" fill="#c0c0c0" />
<rect x="44" y="661" width="2" height="3" fill="#c0c0c0" />
<rect x="60" y="661" width="2" height="2" fill="#c0c0c0" />
<rect x="76" y="661" width="2" height="1" fill="#c0c0c0" />
<rect x="92" y="661" width="2" height="4" fill="#c0c0c0" />
<rect x="108" y="661" width="2" height="7" fill="#c0c0c0" />
<rect x="124" y="661" width="2" height="6" fill="#c0c0c0" />
<rect x="140" y="661" width="2" height="6" fill="#c0c0c0" />
<rect x="156" y="661" width="2" height="7" fill="#c0c0c0" />
<rect x="172" y="661" width="2" height="9" fill="#c0c0c0" />
<rect x="188" y="661" width="2" height="10" fill="#c0c0c0" />
<rect x="204" y="661" width="2" height="15" fill="#c0c0c0" />
<rect x="220" y="661" width="2" height="18" fill="#c0c0c0" />
<rect x="236" y="661" width="2" height="14" fill="#c0c0c0" />
<rect x="252" y="661" width="2" height="8" fill="#c0c0c0" />
<rect x="268" y="661" width="2" height="1" fill="#c0c0c0" />
<rect x="284" y="658" width="2" height="3" fill="#c0c0c0" />
<rect x="300" y="655" width="2" height="6" fill="#c0c0c0" />
<rect x="316" y="650" width="2" height="11" fill="#c0c0c0" />
<rect x="332" y="649" width="2" height="12" fill="#c0c0c0" />
<rect x="348" y="648" width="2" height="13" fill="#c0c0c0" />
<rect x="364" y="649" width="2" height="12" fill="#c0c0c0" />
<rect x="380" y="655" width="2" height="6" fill="#c0c0c0" />
<rect x="396" y="661" width="2" height="1" fill="#c0c0c0" />
<rect x="412" y="661" width="2" height="7" fill="#c0c0c0" />
<rect x="428" y="661" width="2" height="7" fill="#c0c0c0" />
<rect x="444" y="661" width="2" height="7" fill="#c0c0c0" />
<rect x="460" y="661" width="2" height="2" fill="#c0c0c0" />
<rect x="476" y="661" width="2" height="1" fill="#c0c0c0" />
<rect x="492" y="661" width="2" height="3" fill="#c0c0c0" />
<rect x="508" y="661" width="2" height="3" fill="#c0c0c0" />
<rect x="524" y="661" width="2" height="4" fill="#c0c0c0" />
<rect x="540" y="661" width="2" height="13" fill="#c0c0c0" />
<rect x="556" y="661" width="2" height="19" fill="#c0c0c0" />
<rect x="572" y="661" width="2" height="36" fill="#c0c0c0" />
<rect x="588" y="661" width="2" height="47" fill="#c0c0c0" />
<rect x="604" y="661" width="2" height="55" fill="#c0c0c0" />
<rect x="620" y="661" width="2" height="65" fill="#c0c0c0" />
<rect x="636" y="661" width="2" height="77" fill="#c0c0c0" />
<rect x="652" y="661" width="2" height="86" fill="#c0c0c0" />
<rect x="668" y="661" width="2" height="97" fill="#c0c0c0" />
<rect x="684" y="661" width="2" height="96" fill="#c0c0c0" />
<rect x="700" y="661" width="2" height="93" fill="#c0c0c0" />
<rect x="716" y="661" width="2" height="88" fill="#c0c0c0" />
<rect x="732" y="661" width="2" height="87" fill="#c0c0c0" />
<rect x="748" y="661" width="2" height="88" fill="#c0c0c0" />
<rect x="764" y="661" width="2" height="85" fill="#c0c0c0" />
<rect x="780" y="661" width="2" height="81" fill="#c0c0c0" />
<rect x="796" y="661" width="2" height="80" fill="#c0c0c0" />
<rect x="812" y="661" width="2" height="77" fill="#c0c0c0" />
<rect x="828" y="661" width="2" height="75" fill="#c0c0c0" />
<rect x="844" y="661" width="2" height="71" fill="#c0c0c0" />
<rect x="860" y="661" width="2" height="79" fill="#c0c0c0" />
<rect x="876" y="661" width="2" height="81" fill="#c0c0c0" />
<rect x="892" y="661" width="2" height="79" fill="#c0c0c0" />
<rect x="908" y="661" width="2" height="83" fill="#c0c0c0" />
<rect x="924" y="661" width="2" height="77" fill="#c0c0c0" />
<rect x="940" y="661" width="2" height="73" fill="#c0c0c0" />
<rect x="956" y="661" width="2" height="61" fill="#c0c0c0" />
<rect x="972" y="661" width="2" height="51" fill="#c0c0c0" />
<rect x="988" y="661" width="2" height="35" fill="#c0c0c0" />
<rect x="1004" y="661" width="2" height="25" fill="#c0c0c0" />
<rect x="1020" y="661" width="2" height="13" fill="#c0c0c0" />
<rect x="1036" y="661" width="2" height="5" fill="#c0c0c0" />
<rect x="1052" y="650" width="2" height="11" fill="#c0c0c0" />
<rect x="1068" y="639" width="2" height="22" fill="#c0c0c0" />
<rect x="1084" y="636" width="2" height="25" fill="#c0c0c0" />
<rect x="1100" y="637" width="2" height="24" fill="#c0c0c0" />
<rect x="1116" y="637" width="2" height="24" fill="#c0c0c0" />
<rect x="1132" y="637" width="2" height="24" fill="#c0c0c0" />
<rect x="1148" y="642" width="2" height="19" fill="#c0c0c0" />
<rect x="1164" y="645" width="2" height="16" fill="#c0c0c0" />
<rect x="1180" y="645" width="2" height="16" fill="#c0c0c0" />
<rect x="1196" y="642" width="2" height="19" fill="#c0c0c0" />
<rect x="1212" y="642" width="2" height="19" fill="#c0c0c0" />
<rect x="1228" y="627" width="2" height="34" fill="#c0c0c0" />
<rect x="1244" y="619" width="2" height="42" fill="#c0c0c0" />
<rect x="1260" y="611" width="2" height="50" fill="#c0c0c0" />
<rect x="1276" y="606" width="2" height="55" fill="#c0c0c0" />
<rect x="1292" y="600" width="2" height="61" fill="#c0c0c0" />
<rect x="1308" y="595" width="2" height="66" fill="#c0c0c0" />
<rect x="1324" y="594" width="2" height="67" fill="#c0c0c0" />
<rect x="1340" y="593" width="2" height="68" fill="#c0c0c0" />
<rect x="1356" y="596" width="2" height="65" fill="#c0c0c0" />
<rect x="1372" y="600" width="2" height="61" fill="#c0c0c0" />
<rect x="1388" y="610" width="2" height="51" fill="#c0c0c0" />
<rect x="1404" y="622" width="2" height="39" fill="#c0c0c0" />
<rect x="1420" y="631" width="2" height="30" fill="#c0c0c0" />
</g>
<path d="M1382,601.5h3M1388,601.5h3M1394,601.5h3M1400,601.5h3M1371,602.5h2M1376,602.5h3M1406,602.5h3M1365,603.5h2M1370,603.5h1M1412,603.5h1M1358,604.5h3M1364,604.5h1M1413,604.5h2M1418,605.5h3M1352,606.5h3M1346,608.5h3M1342,609.5h1M1340,610.5h2M1336,611.5h1M1334,612.5h2M1330,613.5h1M1328,614.5h2M1324,615.5h1M1322,616.5h2M1316,618.5h3M1311,620.5h2M1310,621.5h1M1305,622.5h2M1304,623.5h1M1298,624.5h3M1292,626.5h3M1288,627.5h1M1286,628.5h2M1281,629.5h2M1280,630.5h1M1274,631.5h3M1268,632.5h3M1262,633.5h3M1256,634.5h3M1250,635.5h3M1244,636.5h3M1240,637.5h1M1233,638.5h2M1238,638.5h2M1220,639.5h3M1226,639.5h3M1232,639.5h1M1190,640.5h3M1196,640.5h3M1202,640.5h3M1208,640.5h3M1214,640.5h3M1172,641.5h3M1178,641.5h3M1184,641.5h3M1166,642.5h3M1160,643.5h3M1155,644.5h2M1150,645.5h1M1154,645.5h1M1148,646.5h2M1143,647.5h2M1142,648.5h1M1137,649.5h2M1136,650.5h1M1131,651.5h2M2,652.5h3M8,652.5h3M14,652.5h3M20,652.5h3M26,652.5h2M1130,652.5h1M28,653.5h1M32,653.5h3M38,653.5h3M1126,653.5h1M44,654.5h3M50,654.5h3M56,654.5h2M386,654.5h3M392,654.5h3M398,654.5h3M404,654.5h3M410,654.5h2M1124,654.5h2M58,655.5h1M62,655.5h3M68,655.5h2M376,655.5h1M380,655.5h3M412,655.5h1M416,655.5h3M422,655.5h3M1120,655.5h1M70,656.5h1M74,656.5h3M368,656.5h3M374,656.5h2M428,656.5h3M434,656.5h3M440,656.5h3M1118,656.5h2M80,657.5h3M86,657.5h3M362,657.5h3M446,657.5h3M452,657.5h3M92,658.5h3M98,658.5h2M356,658.5h3M458,658.5h3M464,658.5h2M1113,658.5h2M100,659.5h1M104,659.5h3M350,659.5h3M466,659.5h1M470,659.5h3M1112,659.5h1M110,660.5h3M344,660.5h3M476,660.5h3M482,660.5h2M116,661.5h3M339,661.5h2M484,661.5h1M488,661.5h3M1108,661.5h1M122,662.5h3M128,662.5h3M333,662.5h2M338,662.5h1M494,662.5h3M500,662.5h3M506,662.5h1M1107,662.5h1M134,663.5h3M140,663.5h3M146,663.5h3M328,663.5h1M332,663.5h1M507,663.5h2M512,663.5h3M518,663.5h2M1106,663.5h1M152,664.5h3M158,664.5h3M164,664.5h1M322,664.5h1M326,664.5h2M520,664.5h1M524,664.5h3M530,664.5h3M165,665.5h2M170,665.5h3M176,665.5h3M315,665.5h2M320,665.5h2M536,665.5h3M542,665.5h2M1101,665.5h2M182,666.5h3M188,666.5h3M194,666.5h3M308,666.5h3M314,666.5h1M544,666.5h1M548,666.5h3M1100,666.5h1M200,667.5h3M206,667.5h3M302,667.5h3M554,667.5h3M212,668.5h3M290,668.5h3M296,668.5h3M560,668.5h3M1096,668.5h1M218,669.5h3M278,669.5h3M284,669.5h3M566,669.5h3M1095,669.5h1M224,670.5h3M230,670.5h3M236,670.5h3M242,670.5h3M248,670.5h3M254,670.5h3M260,670.5h3M266,670.5h3M272,670.5h3M572,670.5h3M1094,670.5h1M578,671.5h3M584,672.5h3M1090,672.5h1M590,673.5h2M1088,673.5h2M592,674.5h1M596,676.5h3M1083,676.5h2M1082,677.5h1M602,678.5h1M603,679.5h1M1078,679.5h1M604,680.5h1M1076,680.5h2M608,681.5h1M609,682.5h2M1072,683.5h1M614,684.5h2M1071,684.5h1M616,685.5h1M1070,685.5h1M620,686.5h1M621,687.5h2M1066,687.5h1M1065,688.5h1M626,689.5h1M1064,689.5h1M627,690.5h2M632,692.5h1M1059,692.5h2M633,693.5h2M1058,693.5h1M638,695.5h1M639,696.5h1M1053,696.5h2M640,697.5h1M1052,697.5h1M644,699.5h1M645,700.5h2M1047,700.5h2M1046,701.5h1M650,703.5h1M651,704.5h2M1041,704.5h2M1040,705.5h1M656,707.5h2M1036,707.5h1M658,708.5h1M1034,708.5h2M1030,710.5h1M662,711.5h2M1028,711.5h2M664,712.5h1M1024,713.5h1M1022,714.5h2M668,715.5h2M670,716.5h1M1017,716.5h2M1016,717.5h1M674,718.5h2M676,719.5h1M1011,719.5h2M1010,720.5h1M680,721.5h2M1006,721.5h1M682,722.5h1M1004,722.5h2M1000,723.5h1M686,724.5h1M998,724.5h2M687,725.5h2M993,726.5h2M692,727.5h1M992,727.5h1M693,728.5h2M987,728.5h2M986,729.5h1M698,730.5h1M980,730.5h3M699,731.5h1M976,731.5h1M700,732.5h1M974,732.5h2M704,733.5h2M968,733.5h3M706,734.5h1M964,734.5h1M710,735.5h2M962,735.5h2M712,736.5h1M951,736.5h2M956,736.5h3M716,737.5h2M944,737.5h3M950,737.5h1M718,738.5h1M920,738.5h3M926,738.5h3M932,738.5h3M938,738.5h3M722,739.5h2M884,739.5h3M890,739.5h3M896,739.5h3M902,739.5h3M908,739.5h3M914,739.5h3M724,740.5h1M856,740.5h1M860,740.5h3M866,740.5h3M872,740.5h3M878,740.5h3M728,741.5h1M848,741.5h3M854,741.5h2M729,742.5h2M836,742.5h3M842,742.5h3M734,743.5h2M830,743.5h3M736,744.5h1M740,744.5h1M824,744.5h3M741,745.5h2M814,745.5h1M818,745.5h3M746,746.5h3M807,746.5h2M812,746.5h2M752,747.5h3M758,747.5h1M800,747.5h3M806,747.5h1M759,748.5h2M764,748.5h2M788,748.5h3M794,748.5h3M766,749.5h1M770,749.5h3M776,749.5h3M782,749.5h3" stroke="#ff0000" stroke-width="1" fill="none" shape-rendering="crispEdges"/>
<text x="1" y="596" font-size="10.2" fill="#000" textLength="128" lengthAdjust="spacingAndGlyphs" >MACD(12,26,9) 0.0937 0.1776</text>
<text x="1629" y="595" font-size="10.2" fill="#000" textLength="28" lengthAdjust="spacingAndGlyphs" >0.2407</text>
<text x="1629" y="665" font-size="10.2" fill="#000" textLength="17.5" lengthAdjust="spacingAndGlyphs" >0.00</text>
<text x="1629" y="764" font-size="10.2" fill="#000" textLength="31" lengthAdjust="spacingAndGlyphs" >-0.3275</text>
<line x1="0" y1="801.5" x2="1625" y2="801.5" stroke="#c0c0c0" stroke-width="1" stroke-dasharray="3,3" stroke-dashoffset="2" shape-rendering="crispEdges"/>
<line x1="0" y1="848.5" x2="1625" y2="848.5" stroke="#c0c0c0" stroke-width="1" stroke-dasharray="3,3" stroke-dashoffset="2" shape-rendering="crispEdges"/>
<line x1="0" y1="904.5" x2="1625" y2="904.5" stroke="#c0c0c0" stroke-width="1" stroke-dasharray="3,3" stroke-dashoffset="2" shape-rendering="crispEdges"/>
<path d="M1229,821.5h2M1228.5,822v2M1231,822.5h3M1234,823.5h2M1300,823.5h12M1227,824.5h1M1236,824.5h3M1291,824.5h9M1312,824.5h4M1226,825.5h1M1239,825.5h2M1258,825.5h7M1286,825.5h5M1316,825.5h4M1336,825.5h7M1052,826.5h8M1225.5,826v2M1241,826.5h3M1249,826.5h9M1265,826.5h9M1280,826.5h6M1320,826.5h4M1329,826.5h7M1343,826.5h1M1051,827.5h1M1060,827.5h6M1244,827.5h5M1274,827.5h6M1324,827.5h5M1344,827.5h2M1050,828.5h1M1066,828.5h4M1224,828.5h1M1346,828.5h1M1048,829.5h2M1070,829.5h2M1223,829.5h1M1347,829.5h2M1047,830.5h1M1072,830.5h1M1222.5,830v2M1349,830.5h1M316,831.5h3M1046,831.5h1M1073,831.5h2M1350,831.5h2M314,832.5h2M319,832.5h1M1045,832.5h1M1075,832.5h1M1221,832.5h1M1352,832.5h2M312,833.5h2M320,833.5h2M1043,833.5h2M1076,833.5h2M1220.5,833v2M1354,833.5h1M310,834.5h2M322,834.5h2M1042,834.5h1M1078,834.5h1M1355,834.5h2M308,835.5h2M324,835.5h1M1020,835.5h5M1041,835.5h1M1079,835.5h2M1219,835.5h1M1357,835.5h17M306,836.5h2M325,836.5h2M989,836.5h2M1017,836.5h3M1025,836.5h5M1039,836.5h2M1081,836.5h1M1218,836.5h1M1374,836.5h1M260,837.5h31M304,837.5h2M327,837.5h1M987,837.5h2M991,837.5h3M1014,837.5h3M1030,837.5h5M1038,837.5h1M1082,837.5h2M1217.5,837v2M1375,837.5h1M252,838.5h8M291,838.5h7M302,838.5h2M328,838.5h2M986,838.5h1M994,838.5h4M1012,838.5h2M1035,838.5h3M1084,838.5h2M1376,838.5h1M250,839.5h2M298,839.5h4M330,839.5h1M460,839.5h3M984,839.5h2M998,839.5h3M1009,839.5h3M1086,839.5h2M1195,839.5h5M1216,839.5h1M1377,839.5h1M248,840.5h2M331,840.5h2M459,840.5h1M463,840.5h2M983,840.5h1M1001,840.5h3M1007,840.5h2M1088,840.5h3M1192,840.5h3M1200,840.5h4M1215,840.5h1M1378,840.5h1M246,841.5h2M333,841.5h10M457,841.5h2M465,841.5h1M981,841.5h2M1004,841.5h3M1091,841.5h3M1188,841.5h4M1204,841.5h4M1214.5,841v2M1379,841.5h1M243,842.5h3M343,842.5h15M456,842.5h1M466,842.5h2M980,842.5h1M1094,842.5h3M1113,842.5h13M1185,842.5h3M1208,842.5h4M1380,842.5h2M241,843.5h2M358,843.5h8M454,843.5h2M468,843.5h2M978,843.5h2M1097,843.5h3M1106,843.5h7M1126,843.5h9M1182,843.5h3M1212,843.5h2M1382,843.5h1M239,844.5h2M366,844.5h1M453,844.5h1M470,844.5h1M977,844.5h1M1100,844.5h6M1135,844.5h2M1178,844.5h4M1383,844.5h1M60,845.5h8M237,845.5h2M367,845.5h1M451,845.5h2M471,845.5h2M975,845.5h2M1137,845.5h2M1174,845.5h4M1384,845.5h1M57,846.5h3M68,846.5h10M236,846.5h1M368,846.5h1M449,846.5h2M473,846.5h2M974,846.5h1M1139,846.5h3M1171,846.5h3M1385,846.5h1M54,847.5h3M78,847.5h1M235,847.5h1M369,847.5h1M448,847.5h1M475,847.5h2M964,847.5h10M1142,847.5h2M1167,847.5h4M1386,847.5h1M52,848.5h2M79,848.5h2M234.5,848v2M370,848.5h1M446,848.5h2M477,848.5h3M957,848.5h7M1144,848.5h2M1161,848.5h6M1387,848.5h1M49,849.5h3M81,849.5h2M132,849.5h12M371,849.5h1M441,849.5h5M480,849.5h3M956,849.5h1M1146,849.5h2M1154,849.5h7M1388,849.5h1M47,850.5h2M83,850.5h1M124,850.5h8M144,850.5h5M233,850.5h1M372,850.5h1M432,850.5h9M483,850.5h5M504,850.5h10M955,850.5h1M1148,850.5h6M1389,850.5h3M0,851.5h2M44,851.5h3M84,851.5h2M120,851.5h4M149,851.5h3M232,851.5h1M373.5,851v2M429,851.5h3M488,851.5h3M497,851.5h7M514,851.5h5M953,851.5h2M1392,851.5h4M2,852.5h2M41,852.5h3M86,852.5h2M117,852.5h3M152,852.5h5M231,852.5h1M428,852.5h1M491,852.5h6M519,852.5h5M952,852.5h1M1396,852.5h4M4,853.5h1M38,853.5h3M88,853.5h1M114,853.5h3M157,853.5h3M230,853.5h1M374,853.5h1M427,853.5h1M524,853.5h2M951,853.5h1M1400,853.5h4M5,854.5h2M34,854.5h4M89,854.5h2M110,854.5h4M160,854.5h4M229,854.5h1M375,854.5h1M426,854.5h1M526,854.5h1M950,854.5h1M1404,854.5h11M7,855.5h2M31,855.5h3M91,855.5h2M100,855.5h10M164,855.5h4M228.5,855v2M376,855.5h1M425,855.5h1M527,855.5h1M949,855.5h1M1415,855.5h7M9,856.5h2M25,856.5h6M93,856.5h7M168,856.5h4M181,856.5h10M377,856.5h1M423,856.5h2M528,856.5h1M948,856.5h1M11,857.5h2M18,857.5h7M172,857.5h9M191,857.5h2M227,857.5h1M378,857.5h1M422,857.5h1M529,857.5h1M946,857.5h2M13,858.5h5M193,858.5h2M226,858.5h1M379,858.5h1M421,858.5h1M530,858.5h1M945,858.5h1M195,859.5h2M225,859.5h1M380,859.5h1M420,859.5h1M531,859.5h1M944,859.5h1M197,860.5h2M224,860.5h1M381,860.5h3M419,860.5h1M532,860.5h1M943,860.5h1M199,861.5h2M223,861.5h1M384,861.5h5M418,861.5h1M533,861.5h1M942,861.5h1M201,862.5h2M222.5,862v2M389,862.5h6M417,862.5h1M534,862.5h1M925,862.5h17M203,863.5h2M395,863.5h5M416,863.5h1M535,863.5h1M924,863.5h1M205,864.5h17M400,864.5h6M415,864.5h1M536,864.5h1M923,864.5h1M406,865.5h5M414,865.5h1M537,865.5h1M922,865.5h1M411,866.5h3M538,866.5h1M557.5,866v2M714,866.5h6M921,866.5h1M539,867.5h1M551,867.5h6M711,867.5h3M720,867.5h4M772,867.5h12M920,867.5h1M540,868.5h1M545,868.5h6M558,868.5h1M706,868.5h5M724,868.5h4M764,868.5h8M784,868.5h4M810,868.5h16M833,868.5h13M919,868.5h1M541,869.5h4M559,869.5h1M703,869.5h3M728,869.5h4M762,869.5h2M788,869.5h4M805,869.5h5M826,869.5h7M846,869.5h1M918,869.5h1M560,870.5h1M692,870.5h11M732,870.5h4M759,870.5h3M792,870.5h4M800,870.5h5M847,870.5h2M917,870.5h1M561,871.5h1M685,871.5h7M736,871.5h3M756,871.5h3M796,871.5h4M849,871.5h1M916,871.5h1M562,872.5h1M684.5,872v2M739,872.5h5M753,872.5h3M850,872.5h1M915,872.5h1M563.5,873v2M744,873.5h3M751,873.5h2M851,873.5h1M890,873.5h5M914,873.5h1M683,874.5h1M747,874.5h4M852,874.5h1M884,874.5h6M895,874.5h3M913,874.5h1M564,875.5h1M682.5,875v2M853,875.5h1M878,875.5h6M898,875.5h3M912,875.5h1M565,876.5h1M854,876.5h2M875,876.5h3M901,876.5h4M911,876.5h1M566,877.5h1M681,877.5h1M856,877.5h1M872,877.5h3M905,877.5h3M910,877.5h1M567,878.5h1M680.5,878v2M857,878.5h1M870,878.5h2M908,878.5h2M568,879.5h1M596,879.5h12M858,879.5h1M867,879.5h3M569,880.5h1M588,880.5h8M608,880.5h3M679,880.5h1M859,880.5h1M865,880.5h2M570.5,881v2M585,881.5h3M611,881.5h4M678.5,881v2M860,881.5h1M862,881.5h3M581,882.5h4M615,882.5h3M861,882.5h1M571,883.5h1M578,883.5h3M618,883.5h3M677,883.5h1M572,884.5h1M575,884.5h3M621,884.5h4M676.5,884v2M573,885.5h2M625,885.5h3M628,886.5h3M675,886.5h1M631,887.5h3M674.5,887v2M634,888.5h3M637,889.5h10M673,889.5h1M647,890.5h8M672.5,890v2M655,891.5h3M658,892.5h4M671,892.5h1M662,893.5h3M670.5,893v2M665,894.5h3M668,895.5h2" stroke="#1e90ff" stroke-width="1" fill="none" shape-rendering="crispEdges"/>
<text x="1" y="781" font-size="10.2" fill="#000" textLength="68" lengthAdjust="spacingAndGlyphs" >RSI(14) 45.6478</text>
<text x="1629" y="780.0" font-size="10.2" fill="#000" textLength="15" lengthAdjust="spacingAndGlyphs" >100</text>
<text x="1629" y="805.0" font-size="10.2" fill="#000" textLength="10" lengthAdjust="spacingAndGlyphs" >80</text>
<text x="1629" y="852.0" font-size="10.2" fill="#000" textLength="10" lengthAdjust="spacingAndGlyphs" >50</text>
<text x="1629" y="908.0" font-size="10.2" fill="#000" textLength="10" lengthAdjust="spacingAndGlyphs" >15</text>
<text x="1629" y="925.0" font-size="10.2" fill="#000" textLength="5" lengthAdjust="spacingAndGlyphs" >0</text>
<text x="-3.4" y="941" font-size="10.2" fill="#000" textLength="49" lengthAdjust="spacingAndGlyphs" >12 Jun 2019</text>
<rect x="61" y="929" width="1" height="3" fill="#000" />
<text x="60.6" y="941" font-size="10.2" fill="#000" textLength="52" lengthAdjust="spacingAndGlyphs" >12 Jun 16:00</text>
<rect x="125" y="929" width="1" height="3" fill="#000" />
<text x="124.6" y="941" font-size="10.2" fill="#000" textLength="52" lengthAdjust="spacingAndGlyphs" >13 Jun 08:00</text>
<rect x="189" y="929" width="1" height="3" fill="#000" />
<text x="188.6" y="941" font-size="10.2" fill="#000" textLength="52" lengthAdjust="spacingAndGlyphs" >14 Jun 00:00</text>
<rect x="253" y="929" width="1" height="3" fill="#000" />
<text x="252.6" y="941" font-size="10.2" fill="#000" textLength="52" lengthAdjust="spacingAndGlyphs" >14 Jun 16:00</text>
<rect x="317" y="929" width="1" height="3" fill="#000" />
<text x="316.6" y="941" font-size="10.2" fill="#000" textLength="52" lengthAdjust="spacingAndGlyphs" >17 Jun 08:00</text>
<rect x="381" y="929" width="1" height="3" fill="#000" />
<text x="380.6" y="941" font-size="10.2" fill="#000" textLength="52" lengthAdjust="spacingAndGlyphs" >18 Jun 00:00</text>
<rect x="445" y="929" width="1" height="3" fill="#000" />
<text x="444.6" y="941" font-size="10.2" fill="#000" textLength="52" lengthAdjust="spacingAndGlyphs" >18 Jun 16:00</text>
<rect x="509" y="929" width="1" height="3" fill="#000" />
<text x="508.6" y="941" font-size="10.2" fill="#000" textLength="52" lengthAdjust="spacingAndGlyphs" >19 Jun 08:00</text>
<rect x="573" y="929" width="1" height="3" fill="#000" />
<text x="572.6" y="941" font-size="10.2" fill="#000" textLength="52" lengthAdjust="spacingAndGlyphs" >20 Jun 00:00</text>
<rect x="637" y="929" width="1" height="3" fill="#000" />
<text x="636.6" y="941" font-size="10.2" fill="#000" textLength="52" lengthAdjust="spacingAndGlyphs" >20 Jun 16:00</text>
<rect x="701" y="929" width="1" height="3" fill="#000" />
<text x="700.6" y="941" font-size="10.2" fill="#000" textLength="52" lengthAdjust="spacingAndGlyphs" >21 Jun 08:00</text>
<rect x="765" y="929" width="1" height="3" fill="#000" />
<text x="764.6" y="941" font-size="10.2" fill="#000" textLength="52" lengthAdjust="spacingAndGlyphs" >24 Jun 00:00</text>
<rect x="829" y="929" width="1" height="3" fill="#000" />
<text x="828.6" y="941" font-size="10.2" fill="#000" textLength="52" lengthAdjust="spacingAndGlyphs" >24 Jun 16:00</text>
<rect x="893" y="929" width="1" height="3" fill="#000" />
<text x="892.6" y="941" font-size="10.2" fill="#000" textLength="52" lengthAdjust="spacingAndGlyphs" >25 Jun 08:00</text>
<rect x="957" y="929" width="1" height="3" fill="#000" />
<text x="956.6" y="941" font-size="10.2" fill="#000" textLength="52" lengthAdjust="spacingAndGlyphs" >26 Jun 00:00</text>
<rect x="1021" y="929" width="1" height="3" fill="#000" />
<text x="1020.6" y="941" font-size="10.2" fill="#000" textLength="52" lengthAdjust="spacingAndGlyphs" >26 Jun 16:00</text>
<rect x="1085" y="929" width="1" height="3" fill="#000" />
<text x="1084.6" y="941" font-size="10.2" fill="#000" textLength="52" lengthAdjust="spacingAndGlyphs" >27 Jun 08:00</text>
<rect x="1149" y="929" width="1" height="3" fill="#000" />
<text x="1148.6" y="941" font-size="10.2" fill="#000" textLength="52" lengthAdjust="spacingAndGlyphs" >28 Jun 00:00</text>
<rect x="1213" y="929" width="1" height="3" fill="#000" />
<text x="1212.6" y="941" font-size="10.2" fill="#000" textLength="52" lengthAdjust="spacingAndGlyphs" >28 Jun 16:00</text>
<rect x="1277" y="929" width="1" height="3" fill="#000" />
<text x="1276.6" y="941" font-size="10.2" fill="#000" textLength="44.5" lengthAdjust="spacingAndGlyphs" >1 Jul 08:00</text>
<rect x="1341" y="929" width="1" height="3" fill="#000" />
<text x="1340.6" y="941" font-size="10.2" fill="#000" textLength="44.5" lengthAdjust="spacingAndGlyphs" >2 Jul 00:00</text>
<rect x="1405" y="929" width="1" height="3" fill="#000" />
<text x="1404.6" y="941" font-size="10.2" fill="#000" textLength="44.5" lengthAdjust="spacingAndGlyphs" >2 Jul 16:00</text>
<rect x="0" y="0" width="1672" height="24" fill="#f0f0f0" />
<rect x="0" y="23" width="1672" height="1" fill="#e2e2e2" />
<rect x="0" y="24" width="1672" height="1" fill="#a9a9a9" />
<rect x="0" y="25" width="1672" height="1" fill="#6e6e6e" />
<defs><pattern id="chk" width="2" height="2" patternUnits="userSpaceOnUse"><rect width="2" height="2" fill="#f0f0f0"/><rect width="1" height="1" fill="#fff"/><rect x="1" y="1" width="1" height="1" fill="#fff"/></pattern></defs>
<path d="M-3,4.4 H4.6 L7.5,7.3 V14 H-3 Z" fill="#fdfdfd" stroke="#7d7d7d" stroke-width="0.9"/>
<path d="M4.6,4.6 V7.3 H7.4" fill="none" stroke="#9a9a9a" stroke-width="0.8"/>
<path d="M-1,7 H1.5 M-1,12.3 H3" stroke="#8a8a8a" stroke-width="1"/>
<path d="M4.1,10.3 h4 v3.9 h3.8 v3.8 h-3.8 v3.9 h-4 v-3.9 h-4.4 v-3.8 h4.4 Z" fill="#22d822" stroke="#0c8f0c" stroke-width="0.8"/>
<path d="M5,11.5 h2 v3.6 h3.6 v1.2 h-9.6 v-1.2 h4 Z" fill="#6cf06c" opacity="0.7"/>
<text x="14" y="15.5" font-size="12" fill="#000" textLength="36" lengthAdjust="spacingAndGlyphs" style="font-family:'Liberation Sans','Noto Sans CJK SC',sans-serif">新订单</text>
<defs><linearGradient id="bk" x1="0" y1="0" x2="1" y2="1"><stop offset="0" stop-color="#e2a90f"/><stop offset="0.5" stop-color="#f6d235"/><stop offset="1" stop-color="#e5b21a"/></linearGradient><linearGradient id="cl" x1="0" y1="0" x2="0" y2="1"><stop offset="0" stop-color="#ffffff"/><stop offset="1" stop-color="#bccbe4"/></linearGradient></defs>
<path d="M68.3,5.2 L78.6,12.8 L78.6,14.2 L70.6,19.7 L63.2,14.2 L63.3,13.2 Z" fill="#b87a0c" stroke="#a8690a" stroke-width="0.8" stroke-linejoin="round"/>
<path d="M68.6,6 L77.6,12.6 L70.6,17.6 L64.2,13.2 Z" fill="url(#bk)"/>
<path d="M78,14 L71,18.9" stroke="#efe4b0" stroke-width="0.9"/>
<path d="M93.5,4.3 H101 L104,6 V13 H96.5 L93.5,11.3 Z" fill="#0c90f2" stroke="#1a7fe0" stroke-width="0.8"/>
<path d="M97,6.3 H103.8 V13 H97 Z" fill="#22b4ff"/>
<path d="M96.8,6.2 V13 M93.8,4.6 L96.8,6.2 H104" stroke="#bfe6ff" stroke-width="0.7" fill="none"/>
<path d="M98.5,9 H103" stroke="#e8f6ff" stroke-width="1.2"/>
<path d="M94.3,19.4 a3.3,3.3 0 0 1 -0.3,-6.3 a3.9,3.9 0 0 1 7,-1.1 a3,3 0 0 1 4.6,2.5 a2.55,2.55 0 0 1 -0.5,4.9 Z" fill="url(#cl)" stroke="#4a6ea8" stroke-width="0.9"/>
<defs><linearGradient id="sg" x1="0" y1="0" x2="0.3" y2="1"><stop offset="0" stop-color="#8fcf8f" stop-opacity="0.25"/><stop offset="1" stop-color="#1fa01f" stop-opacity="0.95"/></linearGradient></defs>
<path d="M127,12 L134.9,10.6 A8,8 0 0 1 127,19.9 Z" fill="url(#sg)"/>
<circle cx="127" cy="11.8" r="7.6" fill="none" stroke="#6a93dc" stroke-width="1" stroke-dasharray="5,1.5" opacity="0.8"/>
<circle cx="127" cy="11.8" r="4.8" fill="none" stroke="#5a86d6" stroke-width="1" stroke-dasharray="4,1.5" opacity="0.8"/>
<circle cx="126.8" cy="11.5" r="2.1" fill="#2458c8"/>
<path d="M127.5,12 V19.8" stroke="#14a514" stroke-width="1.6"/>
<path d="M148,10.5 L162,10.5 L156,19.5 L152,19.5 Z" fill="#f5d84a" stroke="#c9a21a" stroke-width="0.8"/>
<ellipse cx="154.5" cy="8.8" rx="7.8" ry="2.6" fill="#4aa3df" stroke="#2b7fbd" stroke-width="0.8"/>
<ellipse cx="154.5" cy="7" rx="4" ry="2.8" fill="#6bb9ea" stroke="#2b7fbd" stroke-width="0.8"/>
<circle cx="158.7" cy="15.8" r="4.2" fill="#e0260e" stroke="#b01a08" stroke-width="0.6"/>
<rect x="157" y="14.2" width="3.4" height="3.2" fill="#fff" />
<text x="167" y="15.5" font-size="12" fill="#000" textLength="48" lengthAdjust="spacingAndGlyphs" style="font-family:'Liberation Sans','Noto Sans CJK SC',sans-serif">自动交易</text>
<rect x="222" y="0" width="1" height="24" fill="#a0a0a0" />
<rect x="223" y="0" width="1" height="24" fill="#fff" />
<rect x="226" y="2" width="4" height="1" fill="#a8a8a8" />
<rect x="226" y="4" width="4" height="1" fill="#a8a8a8" />
<rect x="226" y="6" width="4" height="1" fill="#a8a8a8" />
<rect x="226" y="8" width="4" height="1" fill="#a8a8a8" />
<rect x="226" y="10" width="4" height="1" fill="#a8a8a8" />
<rect x="226" y="12" width="4" height="1" fill="#a8a8a8" />
<rect x="226" y="14" width="4" height="1" fill="#a8a8a8" />
<rect x="226" y="16" width="4" height="1" fill="#a8a8a8" />
<rect x="226" y="18" width="4" height="1" fill="#a8a8a8" />
<rect x="226" y="20" width="4" height="1" fill="#a8a8a8" />
<path d="M240.5,20.0 V6.5 M238,17.5 H252" stroke="#555" stroke-width="1.1" fill="none"/>
<path d="M238.5,7.8 L240.5,5.2 L242.5,7.8 Z M250.7,15.5 L253.3,17.5 L250.7,19.5 Z" fill="#555"/>
<path d="M246.5,7.5 V15.5 M246.5,8.5 H249 M244.2,14.5 H246.5" stroke="#18a018" stroke-width="1.4" fill="none"/>
<rect x="260" y="0" width="26" height="23" fill="url(#chk)" shape-rendering="crispEdges"/>
<rect x="260" y="0" width="25" height="1" fill="#a0a0a0" />
<rect x="260" y="0" width="1" height="22" fill="#a0a0a0" />
<rect x="285" y="0" width="1" height="23" fill="#fff" />
<rect x="260" y="22" width="26" height="1" fill="#fff" />
<path d="M268.5,20.0 V6.5 M266,17.5 H280" stroke="#555" stroke-width="1.1" fill="none"/>
<path d="M266.5,7.8 L268.5,5.2 L270.5,7.8 Z M278.7,15.5 L281.3,17.5 L278.7,19.5 Z" fill="#555"/>
<path d="M274.5,4 V15.5" stroke="#0a9a0a" stroke-width="1.4"/>
<rect x="272" y="6" width="5" height="7.6" fill="#39d239" stroke="#0a9a0a" stroke-width="1"/>
<path d="M296.5,20.0 V6.5 M294,17.5 H308" stroke="#555" stroke-width="1.1" fill="none"/>
<path d="M294.5,7.8 L296.5,5.2 L298.5,7.8 Z M306.7,15.5 L309.3,17.5 L306.7,19.5 Z" fill="#555"/>
<path d="M295,15 C298,13 299.5,9 301.5,9.2 S305,13 307,13.5" stroke="#2aa32a" stroke-width="1.3" fill="none"/>
<rect x="317" y="1" width="1" height="21" fill="#a0a0a0" />
<path d="M336,14.3 L341,19" stroke="#c9961a" stroke-width="3" stroke-linecap="round"/>
<path d="M336,14.1 L340.6,18.5" stroke="#f2d564" stroke-width="1.2" stroke-linecap="round"/>
<circle cx="332" cy="10" r="5.3" fill="#d9ecfb" stroke="#3a80cc" stroke-width="1.4"/>
<path d="M329,10 H335" stroke="#2f6d9e" stroke-width="1.8"/>
<path d="M332,7 V13" stroke="#2f6d9e" stroke-width="1.8"/>
<path d="M364,14.3 L369,19" stroke="#c9961a" stroke-width="3" stroke-linecap="round"/>
<path d="M364,14.1 L368.6,18.5" stroke="#f2d564" stroke-width="1.2" stroke-linecap="round"/>
<circle cx="360" cy="10" r="5.3" fill="#d9ecfb" stroke="#3a80cc" stroke-width="1.4"/>
<path d="M357,10 H363" stroke="#2f6d9e" stroke-width="1.8"/>
<rect x="382" y="4" width="8" height="8" fill="#3a9e1e" />
<rect x="390" y="4" width="8" height="8" fill="#2a57d0" />
<rect x="382" y="12" width="8" height="8" fill="#2a57d0" />
<rect x="390" y="12" width="8" height="8" fill="#3a9e1e" />
<rect x="383" y="7" width="6" height="4" fill="#fff" />
<rect x="391" y="7" width="6" height="4" fill="#fff" />
<rect x="383" y="15" width="6" height="4" fill="#fff" />
<rect x="391" y="15" width="6" height="4" fill="#fff" />
<rect x="384" y="8" width="4" height="1" fill="#9bd68a" />
<rect x="392" y="8" width="4" height="1" fill="#9db5ee" />
<rect x="384" y="16" width="4" height="1" fill="#9db5ee" />
<rect x="392" y="16" width="4" height="1" fill="#9bd68a" />
<rect x="407" y="1" width="1" height="21" fill="#a0a0a0" />
<rect x="412" y="0" width="26" height="23" fill="url(#chk)" shape-rendering="crispEdges"/>
<rect x="412" y="0" width="25" height="1" fill="#a0a0a0" />
<rect x="412" y="0" width="1" height="22" fill="#a0a0a0" />
<rect x="437" y="0" width="1" height="23" fill="#fff" />
<rect x="412" y="22" width="26" height="1" fill="#fff" />
<path d="M420.5,20.0 V6.5 M418,17.5 H432" stroke="#555" stroke-width="1.1" fill="none"/>
<path d="M418.5,7.8 L420.5,5.2 L422.5,7.8 Z M430.7,15.5 L433.3,17.5 L430.7,19.5 Z" fill="#555"/>
<path d="M425,8 L429.3,11.3 L425,14.7 Z" fill="#2bc42b" stroke="#0a9a0a" stroke-width="0.8"/>
<rect x="440" y="0" width="26" height="23" fill="url(#chk)" shape-rendering="crispEdges"/>
<rect x="440" y="0" width="25" height="1" fill="#a0a0a0" />
<rect x="440" y="0" width="1" height="22" fill="#a0a0a0" />
<rect x="465" y="0" width="1" height="23" fill="#fff" />
<rect x="440" y="22" width="26" height="1" fill="#fff" />
<path d="M448.5,20.0 V6.5 M446,17.5 H460" stroke="#555" stroke-width="1.1" fill="none"/>
<path d="M446.5,7.8 L448.5,5.2 L450.5,7.8 Z M458.7,15.5 L461.3,17.5 L458.7,19.5 Z" fill="#555"/>
<path d="M454.5,6 V16" stroke="#1b6fb5" stroke-width="1.3"/>
<path d="M455.5,11 L458.5,8.8 L458.5,13.2 Z M458,11 H460.5" fill="#d8390e" stroke="#d8390e" stroke-width="0.8"/>
<rect x="469" y="1" width="1" height="21" fill="#a0a0a0" />
<path d="M479.5,4.5 H487.5 L490.5,7.5 V17.5 H479.5 Z" fill="#fff" stroke="#8a8a8a" stroke-width="1"/>
<path d="M482,8 V14 M482,8.5 H484 M482,11 H483.5" stroke="#888" stroke-width="0.9" fill="none"/>
<path d="M486.5,10.5 h3.6 v3.5 h3.5 v3.6 h-3.5 v3.5 h-3.6 v-3.5 h-3.5 v-3.6 h3.5 Z" fill="#1ed21e" stroke="#0a8a0a" stroke-width="0.8"/>
<path d="M501,11 L506,11 L503.5,14 Z" fill="#000"/>
<circle cx="525" cy="11.7" r="7" fill="#f4f8fc" stroke="#1f63c4" stroke-width="2.4"/>
<path d="M525,7.5 V12 H528.5" stroke="#444" stroke-width="1.1" fill="none"/>
<path d="M540,11 L545,11 L542.5,14 Z" fill="#000"/>
<rect x="556" y="5" width="16" height="13.5" fill="#fff" stroke="#3a78c8" stroke-width="1"/>
<rect x="556" y="5" width="16" height="2.5" fill="#5a9ae0" />
<rect x="556" y="12" width="16" height="1" fill="#3a78c8" />
<path d="M558,10.5 L561,9.5 L563,10.3 L565,9 L567,9.8 L570,8.8" stroke="#b0300a" stroke-width="1.3" fill="none"/>
<path d="M558,16.5 L561,15 L563,16 L566,14.2 L568,16 L570,15.5" stroke="#1e9a1e" stroke-width="1.3" fill="none"/>
<path d="M579,11 L584,11 L581.5,14 Z" fill="#000"/>
<rect x="590" y="0" width="1" height="24" fill="#a0a0a0" />
<rect x="591" y="0" width="1" height="24" fill="#fff" />
<rect x="594" y="2" width="4" height="1" fill="#a8a8a8" />
<rect x="594" y="4" width="4" height="1" fill="#a8a8a8" />
<rect x="594" y="6" width="4" height="1" fill="#a8a8a8" />
<rect x="594" y="8" width="4" height="1" fill="#a8a8a8" />
<rect x="594" y="10" width="4" height="1" fill="#a8a8a8" />
<rect x="594" y="12" width="4" height="1" fill="#a8a8a8" />
<rect x="594" y="14" width="4" height="1" fill="#a8a8a8" />
<rect x="594" y="16" width="4" height="1" fill="#a8a8a8" />
<rect x="594" y="18" width="4" height="1" fill="#a8a8a8" />
<rect x="594" y="20" width="4" height="1" fill="#a8a8a8" />
<rect x="600" y="0" width="26" height="23" fill="url(#chk)" shape-rendering="crispEdges"/>
<rect x="600" y="0" width="25" height="1" fill="#a0a0a0" />
<rect x="600" y="0" width="1" height="22" fill="#a0a0a0" />
<rect x="625" y="0" width="1" height="23" fill="#fff" />
<rect x="600" y="22" width="26" height="1" fill="#fff" />
<path d="M608.5,5 V17.5 L611.3,14.8 L613.3,19.2 L615.2,18.3 L613.2,14 L616.8,13.6 Z" fill="#404040"/>
<path d="M633,12.5 H639 M642,12.5 H648 M640.5,5 V11 M640.5,14 V20 M640,12.5 h1" stroke="#404040" stroke-width="1.2"/>
<rect x="657" y="1" width="1" height="21" fill="#a0a0a0" />
<path d="M674.5,6 V19" stroke="#404040" stroke-width="1.3"/>
<path d="M697,12.5 H709" stroke="#404040" stroke-width="1.3"/>
<path d="M725,18.8 L737,7" stroke="#505050" stroke-width="1.3"/>
<path d="M751,14 L764,6 M752,17.5 L765,9.5 M755,10 L754,18.5 M759,7.5 L758,16 M763,4.5 L762,13.5" stroke="#505050" stroke-width="1.1" fill="none"/>
<text x="762" y="20.5" font-size="6.5" fill="#333" font-weight="bold" >E</text>
<path d="M780,5 H793" stroke="#505050" stroke-width="1" stroke-dasharray="1,1"/>
<path d="M780,8.6 H793" stroke="#505050" stroke-width="1" stroke-dasharray="1,1"/>
<path d="M780,12.4 H793" stroke="#505050" stroke-width="1" stroke-dasharray="1,1"/>
<path d="M780,16.3 H789" stroke="#505050" stroke-width="1" stroke-dasharray="1,1"/>
<text x="790" y="20.3" font-size="6.5" fill="#333" font-weight="bold" >F</text>
<text x="810.3" y="16.8" font-size="12.5" fill="#666" font-weight="bold" >A</text>
<rect x="837.5" y="6" width="11" height="12.5" fill="none" stroke="#505050" stroke-width="1" stroke-dasharray="1,1"/>
<path d="M839.5,8.8 H846.5 M843,8.8 V16.5" stroke="#555" stroke-width="1.6" fill="none"/>
<path d="M864.5,9 L867.5,6 L870.5,9 L867.5,10.5 Z M871.5,15.5 L874.5,13.5 L877.8,15.5 L874.5,18.8 Z" fill="#404040"/>
<path d="M866.5,13.5 L868.5,15.5 L873.5,9.8" stroke="#404040" stroke-width="1.3" fill="none"/>
<path d="M885,11 L890,11 L887.5,14 Z" fill="#000"/>
<rect x="896" y="0" width="1" height="24" fill="#a0a0a0" />
<rect x="897" y="0" width="1" height="24" fill="#fff" />
<rect x="900" y="2" width="4" height="1" fill="#a8a8a8" />
<rect x="900" y="4" width="4" height="1" fill="#a8a8a8" />
<rect x="900" y="6" width="4" height="1" fill="#a8a8a8" />
<rect x="900" y="8" width="4" height="1" fill="#a8a8a8" />
<rect x="900" y="10" width="4" height="1" fill="#a8a8a8" />
<rect x="900" y="12" width="4" height="1" fill="#a8a8a8" />
<rect x="900" y="14" width="4" height="1" fill="#a8a8a8" />
<rect x="900" y="16" width="4" height="1" fill="#a8a8a8" />
<rect x="900" y="18" width="4" height="1" fill="#a8a8a8" />
<rect x="900" y="20" width="4" height="1" fill="#a8a8a8" />
<rect x="1046" y="0" width="26" height="23" fill="url(#chk)" shape-rendering="crispEdges"/>
<rect x="1046" y="0" width="25" height="1" fill="#a0a0a0" />
<rect x="1046" y="0" width="1" height="22" fill="#a0a0a0" />
<rect x="1071" y="0" width="1" height="23" fill="#fff" />
<rect x="1046" y="22" width="26" height="1" fill="#fff" />
<text x="911.7" y="16" font-size="10.2" fill="#3a3a3a" textLength="12.6" lengthAdjust="spacingAndGlyphs" >M1</text>
<text x="939.9" y="16" font-size="10.2" fill="#3a3a3a" textLength="12.5" lengthAdjust="spacingAndGlyphs" >M5</text>
<text x="965.7" y="16" font-size="10.2" fill="#3a3a3a" textLength="17.6" lengthAdjust="spacingAndGlyphs" >M15</text>
<text x="993.8" y="16" font-size="10.2" fill="#3a3a3a" textLength="17.6" lengthAdjust="spacingAndGlyphs" >M30</text>
<text x="1024.8" y="16" font-size="10.2" fill="#3a3a3a" textLength="11.7" lengthAdjust="spacingAndGlyphs" >H1</text>
<text x="1051.3" y="16" font-size="10.2" fill="#3a3a3a" textLength="12.5" lengthAdjust="spacingAndGlyphs" >H4</text>
<text x="1080.6" y="16" font-size="10.2" fill="#3a3a3a" textLength="11.7" lengthAdjust="spacingAndGlyphs" >D1</text>
<text x="1108" y="16" font-size="10.2" fill="#3a3a3a" textLength="14.3" lengthAdjust="spacingAndGlyphs" >W1</text>
<text x="1134.8" y="16" font-size="10.2" fill="#3a3a3a" textLength="14.8" lengthAdjust="spacingAndGlyphs" >MN</text>
<rect x="1157" y="0" width="1" height="24" fill="#a0a0a0" />
<path d="M1624.6,12.8 L1620,17" stroke="#2a63d4" stroke-width="2.4" stroke-linecap="round"/>
<circle cx="1627.6" cy="9.5" r="3.9" fill="#f4f4f4" stroke="#2a5fd0" stroke-width="1.2"/>
<path d="M1664,14.2 l1.2,2.2 l-2.6,-2" fill="#888" stroke="#888" stroke-width="0.6"/>
<ellipse cx="1660" cy="9" rx="6.5" ry="4.6" fill="#fcfcfd" stroke="#a6a6a6" stroke-width="1"/>
<path d="M1649.5,17 l-1.2,2.2 l2.8,-1.8" fill="#888" stroke="#888" stroke-width="0.6"/>
<ellipse cx="1651.2" cy="13.4" rx="5" ry="3.9" fill="#fcfcfd" stroke="#a6a6a6" stroke-width="1"/>
<defs><linearGradient id="rg" x1="0" y1="0" x2="0" y2="1"><stop offset="0" stop-color="#f44a4a"/><stop offset="0.38" stop-color="#dc2a2a"/><stop offset="1" stop-color="#b00505"/></linearGradient></defs>
<rect x="0" y="47" width="220" height="67" fill="#fff" />
<path d="M0,48 H52 V72 H109 V111.5 H0 Z" fill="url(#rg)"/>
<path d="M219,48 H167 V72 H111 V111.5 H219 Z" fill="url(#rg)"/>
<path d="M0.5,111 V48.5 H51.5 V72" fill="none" stroke="#c81414" stroke-width="1"/>
<path d="M218.5,111 V48.5 H167.5 V72" fill="none" stroke="#c81414" stroke-width="1"/>
<rect x="4" y="71" width="44" height="1" fill="#f58a8a" />
<rect x="171" y="71" width="44" height="1" fill="#f58a8a" />
<text x="12.4" y="63.8" font-size="12" fill="#fff" textLength="25" lengthAdjust="spacingAndGlyphs" >SELL</text>
<text x="180.5" y="63.8" font-size="12" fill="#fff" textLength="22.4" lengthAdjust="spacingAndGlyphs" >BUY</text>
<rect x="54.5" y="48.8" width="110" height="20.8" fill="#fdfdfd" stroke="#b9b9b9" stroke-width="1"/>
<rect x="55" y="49.3" width="20" height="19.8" fill="#e9e9e9" />
<rect x="144" y="49.3" width="20" height="19.8" fill="#e9e9e9" />
<rect x="75" y="49.3" width="1" height="19.8" fill="#b9b9b9" />
<rect x="143" y="49.3" width="1" height="19.8" fill="#b9b9b9" />
<path d="M62,57 L67,57 L64.5,60 Z" fill="#111"/>
<path d="M151,60 L156,60 L153.5,57 Z" fill="#111"/>
<text x="117" y="62.9" font-size="12" fill="#222" textLength="22.6" lengthAdjust="spacingAndGlyphs" >1.00</text>
<text x="23.7" y="102.3" font-size="10.5" fill="#fff" textLength="19.6" lengthAdjust="spacingAndGlyphs" font-weight="bold" >107</text>
<text x="48" y="102.3" font-size="31" fill="#fff" textLength="34.5" lengthAdjust="spacingAndGlyphs" >86</text>
<text x="87.3" y="86.5" font-size="10.5" fill="#fff" textLength="6.9" lengthAdjust="spacingAndGlyphs" font-weight="bold" >8</text>
<text x="133.7" y="102.3" font-size="10.5" fill="#fff" textLength="19.6" lengthAdjust="spacingAndGlyphs" font-weight="bold" >107</text>
<text x="158.5" y="102.3" font-size="31" fill="#fff" textLength="30.5" lengthAdjust="spacingAndGlyphs" >91</text>
<text x="198" y="86.5" font-size="10.5" fill="#fff" textLength="6.9" lengthAdjust="spacingAndGlyphs" font-weight="bold" >6</text>
</svg>
</body></html>
